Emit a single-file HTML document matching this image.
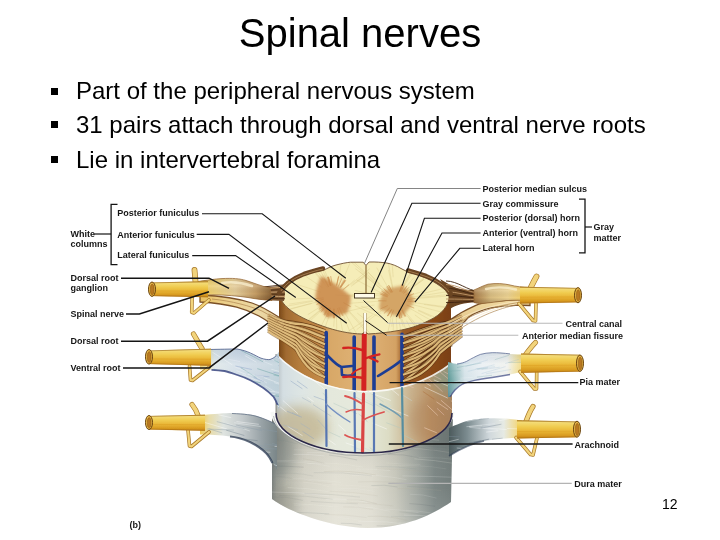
<!DOCTYPE html>
<html><head><meta charset="utf-8">
<style>
html,body{margin:0;padding:0;background:#fff;}
body{width:720px;height:540px;overflow:hidden;position:relative;font-family:"Liberation Sans",sans-serif;}
svg{position:absolute;left:0;top:0;}
</style></head>
<body>
<svg width="720" height="540" viewBox="0 0 720 540" font-family="Liberation Sans, sans-serif">
<defs>
<linearGradient id="gDura" x1="272" y1="0" x2="453" y2="0" gradientUnits="userSpaceOnUse">
<stop offset="0" stop-color="#7c8280"/><stop offset="0.025" stop-color="#9c9e96"/><stop offset="0.08" stop-color="#bcbcb0"/><stop offset="0.18" stop-color="#d4d2c6"/>
<stop offset="0.35" stop-color="#e2e0d4"/><stop offset="0.55" stop-color="#dedcd0"/><stop offset="0.68" stop-color="#c8c8bc"/><stop offset="0.8" stop-color="#a0a6a0"/>
<stop offset="0.9" stop-color="#7c8684"/><stop offset="1" stop-color="#727c7a"/></linearGradient>
<linearGradient id="gDuraV" x1="0" y1="440" x2="0" y2="530" gradientUnits="userSpaceOnUse">
<stop offset="0" stop-color="#000" stop-opacity="0.08"/><stop offset="0.5" stop-color="#fff" stop-opacity="0"/><stop offset="1" stop-color="#fff" stop-opacity="0.15"/></linearGradient>
<linearGradient id="gArach" x1="276" y1="0" x2="452" y2="0" gradientUnits="userSpaceOnUse">
<stop offset="0" stop-color="#b4bcc0"/><stop offset="0.04" stop-color="#d4dee2"/><stop offset="0.15" stop-color="#dee6e4"/><stop offset="0.3" stop-color="#e4e8dc"/>
<stop offset="0.5" stop-color="#e6eadc"/><stop offset="0.64" stop-color="#dcdcc4"/><stop offset="0.76" stop-color="#cab490"/><stop offset="0.88" stop-color="#bc9468"/><stop offset="1" stop-color="#a88460"/></linearGradient>
<linearGradient id="gCord" x1="279" y1="0" x2="451" y2="0" gradientUnits="userSpaceOnUse">
<stop offset="0" stop-color="#7a4818"/><stop offset="0.04" stop-color="#a06a30"/><stop offset="0.12" stop-color="#b47c3c"/><stop offset="0.25" stop-color="#c48a48"/><stop offset="0.3" stop-color="#d8a868"/>
<stop offset="0.5" stop-color="#e0b478"/><stop offset="0.68" stop-color="#d4a264"/><stop offset="0.72" stop-color="#9a5c28"/><stop offset="0.9" stop-color="#884818"/><stop offset="1" stop-color="#7a4016"/></linearGradient>
<linearGradient id="gTube" x1="0" y1="0" x2="0" y2="1">
<stop offset="0" stop-color="#d0a030"/><stop offset="0.1" stop-color="#f4dc78"/><stop offset="0.35" stop-color="#f0cc50"/><stop offset="0.62" stop-color="#e8b434"/><stop offset="0.85" stop-color="#d89a20"/><stop offset="1" stop-color="#c08018"/></linearGradient>
<linearGradient id="gGang" x1="0" y1="0" x2="0" y2="1">
<stop offset="0" stop-color="#c8a468"/><stop offset="0.3" stop-color="#e8d49c"/><stop offset="0.6" stop-color="#eedca8"/><stop offset="1" stop-color="#c09860"/></linearGradient>
<linearGradient id="gVent" x1="0" y1="0" x2="0" y2="1">
<stop offset="0" stop-color="#ecd49a"/><stop offset="0.6" stop-color="#e0c084"/><stop offset="1" stop-color="#c49a60"/></linearGradient>
<linearGradient id="gPaleL" x1="200" y1="0" x2="280" y2="0" gradientUnits="userSpaceOnUse">
<stop offset="0" stop-color="#f0cc58"/><stop offset="0.1" stop-color="#e8e0a8"/><stop offset="0.18" stop-color="#dce6e6"/><stop offset="0.45" stop-color="#d0dce6"/><stop offset="0.75" stop-color="#c6d4de"/><stop offset="1" stop-color="#bccfd8"/></linearGradient>
<linearGradient id="gPaleR" x1="448" y1="0" x2="524" y2="0" gradientUnits="userSpaceOnUse">
<stop offset="0" stop-color="#5a9896"/><stop offset="0.08" stop-color="#8ab6b6"/><stop offset="0.22" stop-color="#d4e2e8"/><stop offset="0.45" stop-color="#e8eef2"/><stop offset="0.78" stop-color="#eef0ec"/><stop offset="0.9" stop-color="#f0e0a0"/><stop offset="1" stop-color="#f0d060"/></linearGradient>
<linearGradient id="gGreyL" x1="200" y1="0" x2="277" y2="0" gradientUnits="userSpaceOnUse">
<stop offset="0" stop-color="#f0cc58"/><stop offset="0.12" stop-color="#e8dca8"/><stop offset="0.3" stop-color="#dfe4e0"/><stop offset="0.55" stop-color="#c4cacc"/><stop offset="0.8" stop-color="#98a2a6"/><stop offset="1" stop-color="#7a8688"/></linearGradient>
<linearGradient id="gGreyR" x1="449" y1="0" x2="522" y2="0" gradientUnits="userSpaceOnUse">
<stop offset="0" stop-color="#4c5a5c"/><stop offset="0.25" stop-color="#7c8c90"/><stop offset="0.55" stop-color="#d0d8dc"/><stop offset="0.75" stop-color="#e6eae4"/><stop offset="0.9" stop-color="#f0dc98"/><stop offset="1" stop-color="#f0d060"/></linearGradient>
<linearGradient id="gGangL" x1="198" y1="0" x2="272" y2="0" gradientUnits="userSpaceOnUse">
<stop offset="0" stop-color="#f0cc58"/><stop offset="0.25" stop-color="#ecd07c"/><stop offset="0.5" stop-color="#e4cc98"/><stop offset="0.78" stop-color="#c49c64"/><stop offset="1" stop-color="#8a6438"/></linearGradient>
<linearGradient id="gGangR" x1="474" y1="0" x2="530" y2="0" gradientUnits="userSpaceOnUse">
<stop offset="0" stop-color="#a87c48"/><stop offset="0.3" stop-color="#d8bc80"/><stop offset="0.6" stop-color="#ead090"/><stop offset="0.85" stop-color="#f0cc68"/><stop offset="1" stop-color="#f0c850"/></linearGradient>
<linearGradient id="gShadeV" x1="0" y1="0" x2="0" y2="1">
<stop offset="0" stop-color="#000" stop-opacity="0.05"/><stop offset="0.35" stop-color="#fff" stop-opacity="0.15"/><stop offset="0.7" stop-color="#000" stop-opacity="0"/><stop offset="1" stop-color="#603010" stop-opacity="0.25"/></linearGradient>
<linearGradient id="gVentR" x1="0" y1="0" x2="0" y2="1">
<stop offset="0" stop-color="#f0d8a0"/><stop offset="0.6" stop-color="#e4c88c"/><stop offset="1" stop-color="#c8a068"/></linearGradient>
<linearGradient id="gVentL" x1="200" y1="0" x2="285" y2="0" gradientUnits="userSpaceOnUse">
<stop offset="0" stop-color="#e8c060"/><stop offset="0.3" stop-color="#ecd08c"/><stop offset="0.7" stop-color="#ecd8a4"/><stop offset="1" stop-color="#e0c490"/></linearGradient>
<linearGradient id="gSleeveV" x1="0" y1="0" x2="0" y2="1">
<stop offset="0" stop-color="#5070a0" stop-opacity="0.12"/><stop offset="0.25" stop-color="#ffffff" stop-opacity="0.2"/><stop offset="0.6" stop-color="#ffffff" stop-opacity="0"/><stop offset="1" stop-color="#5070a0" stop-opacity="0.3"/></linearGradient>
<radialGradient id="gHorn" cx="0.5" cy="0.5" r="0.5">
<stop offset="0" stop-color="#c07434"/><stop offset="0.55" stop-color="#c8843f"/><stop offset="0.85" stop-color="#dcae70" stop-opacity="0.6"/><stop offset="1" stop-color="#f0e0a8" stop-opacity="0"/></radialGradient>
<radialGradient id="gSect" cx="0.5" cy="0.5" r="0.55">
<stop offset="0" stop-color="#f8f2c8"/><stop offset="0.8" stop-color="#f6ecb4"/><stop offset="1" stop-color="#eedc98"/></radialGradient>

<filter id="fBlur2" x="-50%" y="-50%" width="200%" height="200%"><feGaussianBlur stdDeviation="6"/></filter>
<filter id="fSoft" x="0" y="0" width="100%" height="100%" filterUnits="userSpaceOnUse"><feGaussianBlur stdDeviation="0.35"/></filter>
<filter id="fBlur" x="-20%" y="-20%" width="140%" height="140%"><feGaussianBlur stdDeviation="1.6"/></filter>
<clipPath id="cDura"><path d="M272,412 L272,499 C290,512 328,527 368,528 C405,528 432,515 451,502 L453,412 A91,45 0 0 1 272,412 Z"/></clipPath>
<clipPath id="cArach"><path d="M276,354 C298,376 330,390 364,391 C400,391 430,380 452,362 L452,413 A88,40 0 0 1 276,413 Z"/></clipPath>
<clipPath id="cBL"><path d="M200,415 C215,414 225,413 232,413 C245,413.5 252,414.5 257,416 C265,419 270,421 274,423 L277,426 L277,470 L272.5,462 C270,458 268,455 266,453 C261,448 256,445 250,442 C242,438.5 236,437 230,436.5 C220,435 210,434.5 200,434.5 Z"/></clipPath>
<clipPath id="cBR"><path d="M449,428 C456,425 464,421 474,419.5 C490,417.5 506,418 522,420.5 L522,437.5 C508,438 495,439 484,441 C470,444 460,449 449,456 Z"/></clipPath>
<clipPath id="cML"><path d="M200,349 C212,349.5 225,349 237,349 C243,350 247,351.5 250.4,353 C255,355 258,357 261,358.2 C265,359.5 268,359.8 270,359.5 C273,358.5 275,357 276.3,355.6 L279,351.7 L279,409 C278,406 277.6,405 277.6,404.9 C276,401 275,399 273.7,397 C270,393 267,390.5 263.4,388 C259,385 255,382.5 250.4,380.2 C246,378 242,376.5 237.4,375 C233,373.5 229,372 224.5,371 C220,370.3 216,370 211.5,369.8 C207,369.6 203,369.6 200,369.6 Z"/></clipPath>
<clipPath id="cMR"><path d="M448,362 C452,363 455,364 457,364 C461,363.5 464,362.5 466.3,361.5 C471,359 476,356 480.4,354.4 C484,353.4 488,352.8 492.2,352.7 C498,352.6 504,353.2 510,353.9 C515,354.2 520,354.4 524,354.6 L524,371.6 C519,372.5 514,373.8 510,374.5 C504,375.6 498,376.6 492.2,377.5 C486,378.4 480,379.3 474.5,380.4 C470,381.5 466,382.5 462.7,384 C459,386 457,388 455,390 C453,392.5 451,395 450,397 L448,397 Z"/></clipPath>
<clipPath id="cLG"><path d="M198,281.5 C208,280 215,279 222,278.6 C232,278 240,278.6 246,280.5 C254,283 262,286.5 270,288 L272,300.5 C264,300 256,299 248,297.5 C238,296 226,295 214,294.8 C208,294.8 202,295.5 198,296 Z"/></clipPath>
<clipPath id="cRG"><path d="M474,290 C478,288.5 482,286 488,284.2 C496,283 504,283.6 510,285 C516,286.5 522,287.4 530,287.4 L530,301 C522,300 514,300.2 506,300.6 C498,301.5 490,303 482,303.6 C478,303.6 476,303 474,302.5 Z"/></clipPath>
<clipPath id="cSect"><path d="M281,297.5 C282,290 290,282 300,277 C308,273 316,271 323.5,270.3 C328,268 332,266 336,265 C342,263.5 346,262.6 350.6,262.2 L363.2,262.2 L366,265.5 L369,262 C376,261.8 382,262.3 386.7,263 C392,264 397,266 401,268.5 L406.5,271.3 C420,275 432,280 440,286 C446,290 449,294 449,298 C448,306 442,314 430,320 C418,326 408,329 398,330.6 C388,332.4 378,333.5 368,334 L365,331.5 L362,334 C350,333.8 336,331 322.5,326 C308,321 296,315 289,309 C283,304 281,300 281,297.5 Z"/></clipPath>
<clipPath id="cCordTop"><path d="M262,290 L262,350 C290,378 330,392 364,392 C400,392 430,380 470,350 L470,290 Z"/></clipPath>
</defs>
<g id="illu" filter="url(#fSoft)">
<path d="M272,412 L272,499 C290,512 328,527 368,528 C405,528 432,515 451,502 L453,412 A91,45 0 0 1 272,412 Z" fill="url(#gDura)"/>
<path d="M272,412 L272,499 C290,512 328,527 368,528 C405,528 432,515 451,502 L453,412 A91,45 0 0 1 272,412 Z" fill="url(#gDuraV)"/>
<g clip-path="url(#cDura)"><ellipse cx="278" cy="452" rx="16" ry="26" fill="#6a7474" opacity="0.45" filter="url(#fBlur2)"/><ellipse cx="282" cy="505" rx="14" ry="18" fill="#7a7a70" opacity="0.35" filter="url(#fBlur2)"/></g>
<g clip-path="url(#cDura)" stroke-width="0.7" fill="none">
<path d="M349.4,424.5 q17.4,0.3 34.8,3.4" stroke="#b0aa98" stroke-opacity="0.20"/>
<path d="M337.7,427.0 q21.0,-0.1 42.0,4.3" stroke="#f4f2e8" stroke-opacity="0.28"/>
<path d="M364.1,427.3 q13.0,0.1 26.0,4.0" stroke="#f4f2e8" stroke-opacity="0.26"/>
<path d="M274.9,428.8 q25.2,1.1 50.3,4.3" stroke="#b0aa98" stroke-opacity="0.13"/>
<path d="M357.2,429.1 q28.4,1.7 56.8,2.6" stroke="#7a8484" stroke-opacity="0.23"/>
<path d="M333.9,431.4 q28.7,-1.5 57.4,1.9" stroke="#5a6466" stroke-opacity="0.14"/>
<path d="M332.6,432.8 q22.5,1.3 45.1,3.3" stroke="#5a6466" stroke-opacity="0.19"/>
<path d="M328.2,433.1 q14.6,1.7 29.3,4.4" stroke="#5a6466" stroke-opacity="0.23"/>
<path d="M369.0,435.2 q13.3,1.6 26.5,3.3" stroke="#5a6466" stroke-opacity="0.27"/>
<path d="M297.7,435.8 q26.6,-1.5 53.3,2.9" stroke="#b0aa98" stroke-opacity="0.16"/>
<path d="M339.9,436.8 q16.9,-1.4 33.8,2.2" stroke="#ffffff" stroke-opacity="0.19"/>
<path d="M400.3,438.2 q10.9,-0.5 21.8,3.3" stroke="#b0aa98" stroke-opacity="0.24"/>
<path d="M407.9,438.9 q15.6,-0.8 31.2,1.3" stroke="#f4f2e8" stroke-opacity="0.28"/>
<path d="M269.9,440.1 q13.9,-0.9 27.9,3.8" stroke="#7a8484" stroke-opacity="0.17"/>
<path d="M317.7,442.1 q17.2,-0.5 34.4,2.8" stroke="#f4f2e8" stroke-opacity="0.26"/>
<path d="M364.8,442.3 q21.9,1.9 43.8,4.2" stroke="#b0aa98" stroke-opacity="0.14"/>
<path d="M363.3,442.9 q24.3,-1.0 48.6,2.2" stroke="#5a6466" stroke-opacity="0.19"/>
<path d="M387.2,444.2 q29.7,0.5 59.5,3.5" stroke="#5a6466" stroke-opacity="0.12"/>
<path d="M362.2,444.8 q19.3,-0.9 38.7,3.0" stroke="#5a6466" stroke-opacity="0.22"/>
<path d="M413.0,447.0 q10.4,-0.2 20.9,3.4" stroke="#5a6466" stroke-opacity="0.16"/>
<path d="M321.4,447.6 q16.3,-0.9 32.5,4.1" stroke="#5a6466" stroke-opacity="0.26"/>
<path d="M391.0,448.4 q29.4,-1.1 58.9,4.2" stroke="#f4f2e8" stroke-opacity="0.17"/>
<path d="M294.0,449.8 q18.7,-0.7 37.4,2.3" stroke="#ffffff" stroke-opacity="0.14"/>
<path d="M333.0,452.1 q27.1,1.0 54.2,1.9" stroke="#f4f2e8" stroke-opacity="0.13"/>
<path d="M306.9,452.7 q25.7,-1.2 51.5,4.2" stroke="#ffffff" stroke-opacity="0.20"/>
<path d="M293.5,454.4 q15.6,-0.6 31.1,1.5" stroke="#ffffff" stroke-opacity="0.25"/>
<path d="M388.0,454.5 q15.4,-0.8 30.8,3.3" stroke="#5a6466" stroke-opacity="0.22"/>
<path d="M329.1,455.1 q14.0,1.5 28.0,4.9" stroke="#7a8484" stroke-opacity="0.27"/>
<path d="M412.3,457.1 q28.5,-0.2 57.1,4.0" stroke="#f4f2e8" stroke-opacity="0.13"/>
<path d="M414.3,458.8 q20.9,1.4 41.8,4.9" stroke="#f4f2e8" stroke-opacity="0.26"/>
<path d="M302.9,458.7 q10.7,1.6 21.4,4.6" stroke="#b0aa98" stroke-opacity="0.27"/>
<path d="M267.0,460.8 q24.9,-1.0 49.8,1.1" stroke="#f4f2e8" stroke-opacity="0.20"/>
<path d="M273.3,461.9 q28.3,-1.0 56.5,4.4" stroke="#ffffff" stroke-opacity="0.17"/>
<path d="M386.3,462.9 q17.0,1.6 34.1,1.5" stroke="#f4f2e8" stroke-opacity="0.14"/>
<path d="M307.4,463.6 q27.8,-2.0 55.6,3.5" stroke="#f4f2e8" stroke-opacity="0.25"/>
<path d="M272.7,466.0 q15.4,0.1 30.9,1.2" stroke="#5a6466" stroke-opacity="0.22"/>
<path d="M392.0,466.0 q27.1,-1.8 54.3,2.9" stroke="#f4f2e8" stroke-opacity="0.13"/>
<path d="M375.5,466.6 q20.3,-0.7 40.6,2.4" stroke="#7a8484" stroke-opacity="0.17"/>
<path d="M355.9,469.0 q17.2,-0.3 34.4,1.5" stroke="#f4f2e8" stroke-opacity="0.28"/>
<path d="M377.1,468.9 q25.9,-0.5 51.8,3.4" stroke="#b0aa98" stroke-opacity="0.15"/>
<path d="M323.9,471.6 q26.0,-1.8 52.0,3.5" stroke="#b0aa98" stroke-opacity="0.26"/>
<path d="M313.8,472.7 q29.0,-1.0 58.0,3.1" stroke="#7a8484" stroke-opacity="0.19"/>
<path d="M276.1,473.7 q18.5,-1.9 37.0,2.3" stroke="#7a8484" stroke-opacity="0.14"/>
<path d="M351.7,475.4 q27.4,-1.5 54.8,4.3" stroke="#ffffff" stroke-opacity="0.19"/>
<path d="M402.5,475.9 q25.8,0.3 51.7,1.4" stroke="#ffffff" stroke-opacity="0.24"/>
<path d="M265.8,476.9 q12.9,-1.6 25.7,1.4" stroke="#7a8484" stroke-opacity="0.13"/>
<path d="M292.8,478.7 q10.5,-1.5 20.9,2.9" stroke="#ffffff" stroke-opacity="0.12"/>
<path d="M309.1,479.4 q16.0,1.1 32.0,3.0" stroke="#ffffff" stroke-opacity="0.13"/>
<path d="M281.5,480.6 q25.0,-0.7 50.0,3.3" stroke="#b0aa98" stroke-opacity="0.13"/>
<path d="M302.5,482.0 q13.6,0.8 27.2,4.8" stroke="#f4f2e8" stroke-opacity="0.19"/>
<path d="M357.9,482.0 q28.8,-1.7 57.6,3.0" stroke="#b0aa98" stroke-opacity="0.19"/>
<path d="M329.0,484.6 q24.9,0.3 49.9,3.3" stroke="#f4f2e8" stroke-opacity="0.19"/>
<path d="M371.3,485.6 q13.1,-1.4 26.2,1.4" stroke="#7a8484" stroke-opacity="0.26"/>
<path d="M407.1,486.4 q20.3,1.4 40.7,1.5" stroke="#7a8484" stroke-opacity="0.21"/>
<path d="M287.7,487.6 q20.3,0.2 40.6,4.1" stroke="#f4f2e8" stroke-opacity="0.26"/>
<path d="M397.6,488.6 q21.9,-0.9 43.8,1.9" stroke="#b0aa98" stroke-opacity="0.21"/>
<path d="M339.3,488.4 q17.7,-1.0 35.3,2.9" stroke="#f4f2e8" stroke-opacity="0.21"/>
<path d="M329.9,491.3 q24.0,0.3 47.9,4.6" stroke="#b0aa98" stroke-opacity="0.15"/>
<path d="M269.3,492.0 q29.9,-0.4 59.7,3.9" stroke="#ffffff" stroke-opacity="0.26"/>
<path d="M337.4,493.8 q14.6,1.1 29.2,1.3" stroke="#f4f2e8" stroke-opacity="0.22"/>
<path d="M304.4,493.4 q27.8,0.5 55.6,3.7" stroke="#5a6466" stroke-opacity="0.14"/>
<path d="M409.7,494.2 q13.4,-0.3 26.8,3.9" stroke="#ffffff" stroke-opacity="0.17"/>
<path d="M279.4,495.5 q26.7,-0.2 53.4,3.9" stroke="#5a6466" stroke-opacity="0.13"/>
<path d="M269.6,497.1 q16.6,-1.2 33.3,3.3" stroke="#7a8484" stroke-opacity="0.20"/>
<path d="M325.6,499.5 q20.9,-1.7 41.8,2.7" stroke="#ffffff" stroke-opacity="0.26"/>
<path d="M346.8,499.6 q15.0,-0.5 30.0,4.1" stroke="#b0aa98" stroke-opacity="0.27"/>
<path d="M310.8,501.4 q23.5,1.8 47.0,2.4" stroke="#5a6466" stroke-opacity="0.14"/>
<path d="M346.5,502.2 q23.3,0.9 46.7,3.7" stroke="#b0aa98" stroke-opacity="0.18"/>
<path d="M293.2,503.3 q22.9,1.6 45.8,3.6" stroke="#f4f2e8" stroke-opacity="0.15"/>
<path d="M409.4,503.6 q12.8,0.6 25.7,2.7" stroke="#5a6466" stroke-opacity="0.22"/>
<path d="M294.0,505.1 q19.6,-1.6 39.3,1.7" stroke="#f4f2e8" stroke-opacity="0.23"/>
<path d="M354.3,506.8 q17.8,-0.5 35.7,4.5" stroke="#ffffff" stroke-opacity="0.16"/>
<path d="M343.2,506.9 q14.9,-0.7 29.9,2.6" stroke="#b0aa98" stroke-opacity="0.18"/>
<path d="M384.6,509.0 q17.1,0.4 34.1,3.7" stroke="#ffffff" stroke-opacity="0.14"/>
<path d="M406.0,510.2 q12.2,0.7 24.5,2.6" stroke="#f4f2e8" stroke-opacity="0.21"/>
<path d="M284.9,512.2 q22.2,0.2 44.3,1.7" stroke="#7a8484" stroke-opacity="0.25"/>
<path d="M399.6,511.8 q17.4,1.2 34.8,4.6" stroke="#5a6466" stroke-opacity="0.12"/>
<path d="M324.4,514.4 q21.1,-0.0 42.1,3.1" stroke="#b0aa98" stroke-opacity="0.17"/>
<path d="M403.8,515.1 q23.4,0.9 46.7,1.0" stroke="#ffffff" stroke-opacity="0.22"/>
<path d="M367.6,516.4 q19.8,-1.2 39.7,4.1" stroke="#b0aa98" stroke-opacity="0.22"/>
<path d="M391.0,516.4 q28.5,-0.9 57.0,3.6" stroke="#7a8484" stroke-opacity="0.14"/>
<path d="M337.4,517.5 q11.8,0.5 23.5,3.0" stroke="#ffffff" stroke-opacity="0.12"/>
<path d="M267.9,519.3 q16.8,0.8 33.6,1.5" stroke="#5a6466" stroke-opacity="0.26"/>
<path d="M358.2,521.2 q28.5,-0.6 57.1,4.2" stroke="#ffffff" stroke-opacity="0.24"/>
<path d="M398.5,522.5 q18.7,-1.6 37.5,1.2" stroke="#f4f2e8" stroke-opacity="0.20"/>
<path d="M296.0,521.9 q13.2,-1.7 26.4,4.4" stroke="#7a8484" stroke-opacity="0.20"/>
<path d="M340.8,523.3 q10.5,-0.4 20.9,1.7" stroke="#7a8484" stroke-opacity="0.24"/>
<path d="M376.6,525.8 q17.3,-0.6 34.7,2.6" stroke="#5a6466" stroke-opacity="0.19"/>
<path d="M389.7,527.1 q15.2,-0.2 30.3,1.8" stroke="#5a6466" stroke-opacity="0.14"/>
<path d="M291.5,526.8 q18.1,-1.4 36.1,3.4" stroke="#f4f2e8" stroke-opacity="0.22"/>
</g>
<path d="M200,415 C215,414 225,413 232,413 C245,413.5 252,414.5 257,416 C265,419 270,421 274,423 L277,426 L277,470 L272.5,462 C270,458 268,455 266,453 C261,448 256,445 250,442 C242,438.5 236,437 230,436.5 C220,435 210,434.5 200,434.5 Z" fill="url(#gGreyL)"/>
<g clip-path="url(#cBL)" fill="none">
<path d="M234.1,422.7 l26.6,3.8" stroke="#f0f4f4" stroke-width="0.8" opacity="0.5"/>
<path d="M231.4,452.8 l10.9,1.6" stroke="#8a9aa8" stroke-width="0.8" opacity="0.5"/>
<path d="M238.0,464.7 l27.6,2.3" stroke="#8a9aa8" stroke-width="0.8" opacity="0.5"/>
<path d="M236.5,421.6 l22.3,2.7" stroke="#ffffff" stroke-width="0.8" opacity="0.5"/>
<path d="M245.8,458.8 l14.9,5.3" stroke="#8a9aa8" stroke-width="0.8" opacity="0.5"/>
<path d="M260.8,467.8 l19.4,3.9" stroke="#ffffff" stroke-width="0.8" opacity="0.5"/>
<path d="M262.7,448.5 l16.9,0.6" stroke="#8a9aa8" stroke-width="0.8" opacity="0.5"/>
<path d="M274.6,446.4 l10.1,0.1" stroke="#ffffff" stroke-width="0.8" opacity="0.5"/>
<path d="M201.5,441.2 l19.6,1.3" stroke="#f0f4f4" stroke-width="0.8" opacity="0.5"/>
<path d="M215.5,468.5 l18.8,5.4" stroke="#f0f4f4" stroke-width="0.8" opacity="0.5"/>
<path d="M272.4,414.0 l15.7,3.4" stroke="#8a9aa8" stroke-width="0.8" opacity="0.5"/>
<path d="M206.8,429.0 l27.0,1.1" stroke="#8a9aa8" stroke-width="0.8" opacity="0.5"/>
<path d="M242.1,443.1 l25.3,3.6" stroke="#8a9aa8" stroke-width="0.8" opacity="0.5"/>
<path d="M264.3,444.1 l28.2,3.6" stroke="#8a9aa8" stroke-width="0.8" opacity="0.5"/>
<path d="M233.8,437.8 l23.9,2.9" stroke="#6a7a88" stroke-width="0.8" opacity="0.5"/>
<path d="M239.0,455.7 l27.5,6.8" stroke="#8a9aa8" stroke-width="0.8" opacity="0.5"/>
<path d="M203.3,422.0 l24.0,7.1" stroke="#ffffff" stroke-width="0.8" opacity="0.5"/>
<path d="M258.4,451.3 l11.9,1.0" stroke="#ffffff" stroke-width="0.8" opacity="0.5"/>
<path d="M267.6,462.6 l18.1,5.9" stroke="#f0f4f4" stroke-width="0.8" opacity="0.5"/>
<path d="M276.8,412.1 l13.4,3.8" stroke="#ffffff" stroke-width="0.8" opacity="0.5"/>
<path d="M226.1,430.1 l18.2,5.4" stroke="#6a7a88" stroke-width="0.8" opacity="0.5"/>
<path d="M218.5,414.8 l12.7,2.9" stroke="#ffffff" stroke-width="0.8" opacity="0.5"/>
<path d="M208.6,428.7 l13.6,4.2" stroke="#8a9aa8" stroke-width="0.8" opacity="0.5"/>
<path d="M238.9,464.6 l15.6,5.0" stroke="#6a7a88" stroke-width="0.8" opacity="0.5"/>
<path d="M236.0,448.1 l10.4,3.0" stroke="#ffffff" stroke-width="0.8" opacity="0.5"/>
<path d="M266.1,417.9 l28.7,2.6" stroke="#ffffff" stroke-width="0.8" opacity="0.5"/>
<path d="M235.8,424.9 l26.0,5.7" stroke="#8a9aa8" stroke-width="0.8" opacity="0.5"/>
<path d="M258.6,462.6 l16.5,3.5" stroke="#8a9aa8" stroke-width="0.8" opacity="0.5"/>
<path d="M259.9,428.9 l28.6,4.5" stroke="#8a9aa8" stroke-width="0.8" opacity="0.5"/>
<path d="M215.9,443.3 l18.7,4.9" stroke="#ffffff" stroke-width="0.8" opacity="0.5"/>
<path d="M226.3,423.1 l23.8,8.0" stroke="#f0f4f4" stroke-width="0.8" opacity="0.5"/>
<path d="M232.6,449.6 l22.1,1.7" stroke="#f0f4f4" stroke-width="0.8" opacity="0.5"/>
<path d="M264.5,415.6 l14.5,2.3" stroke="#f0f4f4" stroke-width="0.8" opacity="0.5"/>
<path d="M216.8,421.6 l27.7,7.2" stroke="#8a9aa8" stroke-width="0.8" opacity="0.5"/>
<path d="M271.7,443.1 l17.4,6.0" stroke="#8a9aa8" stroke-width="0.8" opacity="0.5"/>
<path d="M237.3,456.9 l17.0,6.2" stroke="#ffffff" stroke-width="0.8" opacity="0.5"/>
<path d="M222.5,466.2 l13.7,0.5" stroke="#6a7a88" stroke-width="0.8" opacity="0.5"/>
<path d="M222.7,442.1 l22.8,0.3" stroke="#6a7a88" stroke-width="0.8" opacity="0.5"/>
<path d="M221.3,437.1 l16.3,4.3" stroke="#f0f4f4" stroke-width="0.8" opacity="0.5"/>
<path d="M211.0,437.8 l27.8,4.4" stroke="#6a7a88" stroke-width="0.8" opacity="0.5"/>
</g>
<path d="M230,436.5 C236,437 242,438.5 250,442 C256,445 261,448 266,453 C268,455 270,458 272.5,463" stroke="#2a3850" stroke-width="2.2" fill="none" opacity="0.75"/>
<path d="M232,413.5 C245,414 252,415 257,416.5 C265,419 270,421 275,424" stroke="#5a6a80" stroke-width="1" fill="none" opacity="0.7"/>
<path d="M449,428 C456,425 464,421 474,419.5 C490,417.5 506,418 522,420.5 L522,437.5 C508,438 495,439 484,441 C470,444 460,449 449,456 Z" fill="url(#gGreyR)"/>
<g clip-path="url(#cBR)" fill="none">
<path d="M456.8,448.0 l23.9,2.2" stroke="#e8eef0" stroke-width="0.8" opacity="0.5"/>
<path d="M517.6,434.1 l28.7,-2.4" stroke="#4a5a68" stroke-width="0.8" opacity="0.5"/>
<path d="M472.7,451.8 l15.6,-1.4" stroke="#e8eef0" stroke-width="0.8" opacity="0.5"/>
<path d="M507.1,428.5 l14.8,0.5" stroke="#ffffff" stroke-width="0.8" opacity="0.5"/>
<path d="M446.1,442.4 l12.6,-3.1" stroke="#ffffff" stroke-width="0.8" opacity="0.5"/>
<path d="M445.1,457.3 l25.7,-3.2" stroke="#e8eef0" stroke-width="0.8" opacity="0.5"/>
<path d="M520.4,417.5 l13.3,-3.3" stroke="#7a8a98" stroke-width="0.8" opacity="0.5"/>
<path d="M514.6,451.1 l22.1,0.7" stroke="#7a8a98" stroke-width="0.8" opacity="0.5"/>
<path d="M469.0,426.4 l25.9,-2.7" stroke="#e8eef0" stroke-width="0.8" opacity="0.5"/>
<path d="M471.1,417.2 l10.7,1.1" stroke="#4a5a68" stroke-width="0.8" opacity="0.5"/>
<path d="M515.3,450.0 l14.6,-3.0" stroke="#7a8a98" stroke-width="0.8" opacity="0.5"/>
<path d="M484.2,450.9 l20.8,-3.2" stroke="#4a5a68" stroke-width="0.8" opacity="0.5"/>
<path d="M448.5,436.4 l11.2,0.4" stroke="#7a8a98" stroke-width="0.8" opacity="0.5"/>
<path d="M481.0,444.0 l28.6,1.0" stroke="#7a8a98" stroke-width="0.8" opacity="0.5"/>
<path d="M473.6,442.6 l15.5,-3.5" stroke="#4a5a68" stroke-width="0.8" opacity="0.5"/>
<path d="M521.4,439.0 l18.0,-2.3" stroke="#7a8a98" stroke-width="0.8" opacity="0.5"/>
<path d="M466.4,426.7 l15.6,-1.0" stroke="#e8eef0" stroke-width="0.8" opacity="0.5"/>
<path d="M455.8,417.6 l19.4,-3.3" stroke="#7a8a98" stroke-width="0.8" opacity="0.5"/>
<path d="M516.7,441.7 l10.6,-0.5" stroke="#ffffff" stroke-width="0.8" opacity="0.5"/>
<path d="M482.5,427.8 l24.1,1.7" stroke="#ffffff" stroke-width="0.8" opacity="0.5"/>
<path d="M478.5,419.2 l10.6,-0.8" stroke="#7a8a98" stroke-width="0.8" opacity="0.5"/>
<path d="M460.0,454.7 l13.5,-1.6" stroke="#7a8a98" stroke-width="0.8" opacity="0.5"/>
<path d="M469.3,427.4 l28.9,2.3" stroke="#e8eef0" stroke-width="0.8" opacity="0.5"/>
<path d="M492.0,439.3 l10.7,-1.1" stroke="#7a8a98" stroke-width="0.8" opacity="0.5"/>
<path d="M520.5,419.3 l14.4,-2.6" stroke="#ffffff" stroke-width="0.8" opacity="0.5"/>
<path d="M498.8,420.8 l22.2,-4.6" stroke="#ffffff" stroke-width="0.8" opacity="0.5"/>
<path d="M517.5,456.9 l23.7,-2.4" stroke="#7a8a98" stroke-width="0.8" opacity="0.5"/>
<path d="M480.6,428.2 l20.8,-4.0" stroke="#7a8a98" stroke-width="0.8" opacity="0.5"/>
<path d="M518.7,422.1 l27.6,-5.2" stroke="#7a8a98" stroke-width="0.8" opacity="0.5"/>
<path d="M496.9,443.2 l12.5,-2.9" stroke="#4a5a68" stroke-width="0.8" opacity="0.5"/>
<path d="M468.9,443.2 l12.4,-2.5" stroke="#4a5a68" stroke-width="0.8" opacity="0.5"/>
<path d="M486.2,432.1 l12.1,-1.4" stroke="#ffffff" stroke-width="0.8" opacity="0.5"/>
<path d="M466.6,421.5 l12.6,-2.6" stroke="#e8eef0" stroke-width="0.8" opacity="0.5"/>
<path d="M517.2,441.4 l27.8,-7.0" stroke="#e8eef0" stroke-width="0.8" opacity="0.5"/>
<path d="M521.8,457.2 l14.8,-1.9" stroke="#7a8a98" stroke-width="0.8" opacity="0.5"/>
</g>
<path d="M484,441 C470,444 460,449 449,456" stroke="#2a3850" stroke-width="1.6" fill="none" opacity="0.6"/>
<path d="M198,415.5 C196.5,411 194,407 192,404.5" stroke="#a87828" stroke-width="5.199999999999999" fill="none" stroke-linecap="round" stroke-linejoin="round"/><path d="M198,415.5 C196.5,411 194,407 192,404.5" stroke="#f2d47c" stroke-width="3.8" fill="none" stroke-linecap="round" stroke-linejoin="round"/>
<path d="M188,430 L189.5,446 L191.5,446.5 L209,432" stroke="#a87828" stroke-width="3.6" fill="none" stroke-linecap="round" stroke-linejoin="round"/><path d="M188,430 L189.5,446 L191.5,446.5 L209,432" stroke="#f2d47c" stroke-width="2.2" fill="none" stroke-linecap="round" stroke-linejoin="round"/>
<path d="M149,416 L205,414.8 L205,430.7 L149,429.5 Z" fill="url(#gTube)"/><path d="M149,424.4 L205,424.7" stroke="#d89820" stroke-width="1" opacity="0.4"/><path d="M149,416.4 L205,415.2" stroke="#9a6a20" stroke-width="0.8" opacity="0.8"/><path d="M149,429.1 L205,430.3" stroke="#b07418" stroke-width="0.9" opacity="0.8"/>
<ellipse cx="149" cy="422.5" rx="3.5" ry="7" fill="#e8b848" stroke="#6a4410" stroke-width="1"/><ellipse cx="149.2" cy="422.8" rx="1.9" ry="5.2" fill="#b87820" stroke="#8a5a14" stroke-width="0.5"/>
<path d="M526,421.5 C528,416 530,411 533,406.5" stroke="#a87828" stroke-width="5.199999999999999" fill="none" stroke-linecap="round" stroke-linejoin="round"/><path d="M526,421.5 C528,416 530,411 533,406.5" stroke="#f2d47c" stroke-width="3.8" fill="none" stroke-linecap="round" stroke-linejoin="round"/>
<path d="M516,437.5 L530.5,454.5 L533,455 L537,438" stroke="#a87828" stroke-width="3.6" fill="none" stroke-linecap="round" stroke-linejoin="round"/><path d="M516,437.5 L530.5,454.5 L533,455 L537,438" stroke="#f2d47c" stroke-width="2.2" fill="none" stroke-linecap="round" stroke-linejoin="round"/>
<path d="M517,420.3 L577,421.5 L577,437.2 L517,438.4 Z" fill="url(#gTube)"/><path d="M517,431.5 L577,431.2" stroke="#d89820" stroke-width="1" opacity="0.4"/><path d="M517,420.7 L577,421.9" stroke="#9a6a20" stroke-width="0.8" opacity="0.8"/><path d="M517,438.0 L577,436.8" stroke="#b07418" stroke-width="0.9" opacity="0.8"/>
<ellipse cx="577" cy="429.2" rx="3.5" ry="8" fill="#e8b848" stroke="#6a4410" stroke-width="1"/><ellipse cx="577.2" cy="429.5" rx="1.9" ry="6.2" fill="#b87820" stroke="#8a5a14" stroke-width="0.5"/>
<path d="M272,412 A91,45 0 0 0 453,412" fill="none" stroke="#f6f8f6" stroke-width="3.8"/>
<path d="M273.5,416 A89.5,43 0 0 0 452,416" fill="none" stroke="#8c9494" stroke-width="0.8" opacity="0.7"/>
<path d="M279,296 L279,420 L451,420 L451,296 Z" fill="url(#gCord)"/>
<path d="M278,321.0 C294,322.0 310,325.0 325,331.0" stroke="#5e3414" stroke-width="3.8" fill="none" opacity="0.7"/>
<path d="M278,321.0 C294,322.0 310,325.0 325,331.0" stroke="#dfbc7c" stroke-width="2.1" fill="none"/>
<path d="M278,323.2 C294,324.7 310,331.3 325,337.6" stroke="#5e3414" stroke-width="3.8" fill="none" opacity="0.7"/>
<path d="M278,323.2 C294,324.7 310,331.3 325,337.6" stroke="#dfbc7c" stroke-width="2.1" fill="none"/>
<path d="M278,325.4 C294,327.4 310,337.6 325,344.2" stroke="#5e3414" stroke-width="3.8" fill="none" opacity="0.7"/>
<path d="M278,325.4 C294,327.4 310,337.6 325,344.2" stroke="#dfbc7c" stroke-width="2.1" fill="none"/>
<path d="M278,327.6 C294,330.1 310,343.9 325,350.8" stroke="#5e3414" stroke-width="3.8" fill="none" opacity="0.7"/>
<path d="M278,327.6 C294,330.1 310,343.9 325,350.8" stroke="#dfbc7c" stroke-width="2.1" fill="none"/>
<path d="M278,329.8 C294,332.8 310,350.2 325,357.4" stroke="#5e3414" stroke-width="3.8" fill="none" opacity="0.7"/>
<path d="M278,329.8 C294,332.8 310,350.2 325,357.4" stroke="#dfbc7c" stroke-width="2.1" fill="none"/>
<path d="M278,332.0 C294,335.5 310,356.5 325,364.0" stroke="#5e3414" stroke-width="3.8" fill="none" opacity="0.7"/>
<path d="M278,332.0 C294,335.5 310,356.5 325,364.0" stroke="#dfbc7c" stroke-width="2.1" fill="none"/>
<path d="M278,334.2 C294,338.2 310,362.8 325,370.6" stroke="#5e3414" stroke-width="3.8" fill="none" opacity="0.7"/>
<path d="M278,334.2 C294,338.2 310,362.8 325,370.6" stroke="#dfbc7c" stroke-width="2.1" fill="none"/>
<path d="M278,336.4 C294,340.9 310,369.1 325,377.2" stroke="#5e3414" stroke-width="3.8" fill="none" opacity="0.7"/>
<path d="M278,336.4 C294,340.9 310,369.1 325,377.2" stroke="#dfbc7c" stroke-width="2.1" fill="none"/>
<path d="M452,322.0 C438,323.0 418,331.0 403,337.0" stroke="#4a2810" stroke-width="3.8" fill="none" opacity="0.7"/>
<path d="M452,322.0 C438,323.0 418,331.0 403,337.0" stroke="#dcb878" stroke-width="2.1" fill="none"/>
<path d="M452,325.2 C438,326.6 418,337.0 403,343.3" stroke="#4a2810" stroke-width="3.8" fill="none" opacity="0.7"/>
<path d="M452,325.2 C438,326.6 418,337.0 403,343.3" stroke="#dcb878" stroke-width="2.1" fill="none"/>
<path d="M452,328.4 C438,330.2 418,343.0 403,349.6" stroke="#4a2810" stroke-width="3.8" fill="none" opacity="0.7"/>
<path d="M452,328.4 C438,330.2 418,343.0 403,349.6" stroke="#dcb878" stroke-width="2.1" fill="none"/>
<path d="M452,331.6 C438,333.8 418,349.0 403,355.9" stroke="#4a2810" stroke-width="3.8" fill="none" opacity="0.7"/>
<path d="M452,331.6 C438,333.8 418,349.0 403,355.9" stroke="#dcb878" stroke-width="2.1" fill="none"/>
<path d="M452,334.8 C438,337.4 418,355.0 403,362.2" stroke="#4a2810" stroke-width="3.8" fill="none" opacity="0.7"/>
<path d="M452,334.8 C438,337.4 418,355.0 403,362.2" stroke="#dcb878" stroke-width="2.1" fill="none"/>
<path d="M452,338.0 C438,341.0 418,361.0 403,368.5" stroke="#4a2810" stroke-width="3.8" fill="none" opacity="0.7"/>
<path d="M452,338.0 C438,341.0 418,361.0 403,368.5" stroke="#dcb878" stroke-width="2.1" fill="none"/>
<path d="M452,341.2 C438,344.6 418,367.0 403,374.8" stroke="#4a2810" stroke-width="3.8" fill="none" opacity="0.7"/>
<path d="M452,341.2 C438,344.6 418,367.0 403,374.8" stroke="#dcb878" stroke-width="2.1" fill="none"/>
<path d="M452,344.4 C438,348.2 418,373.0 403,381.1" stroke="#4a2810" stroke-width="3.8" fill="none" opacity="0.7"/>
<path d="M452,344.4 C438,348.2 418,373.0 403,381.1" stroke="#dcb878" stroke-width="2.1" fill="none"/>
<path d="M326.2,332.6 L326.2,386" stroke="#1e3c94" stroke-width="3.6" fill="none" stroke-linecap="round" stroke-linejoin="round"/>
<path d="M327,355 C332,360 336,365 341.5,367 L352,366 M341.5,367 L342,375 C346,376 350,376 353,375" stroke="#1e3c94" stroke-width="2.6" fill="none" stroke-linecap="round" stroke-linejoin="round"/>
<path d="M354.2,337 L354.2,391" stroke="#1e3c94" stroke-width="3.6" fill="none" stroke-linecap="round" stroke-linejoin="round"/>
<path d="M374,337 L374,391" stroke="#1e3c94" stroke-width="3.6" fill="none" stroke-linecap="round" stroke-linejoin="round"/>
<path d="M402,334.4 L402,387" stroke="#1e3c94" stroke-width="3.6" fill="none" stroke-linecap="round" stroke-linejoin="round"/>
<path d="M402,359.7 C395,366 386,371 378,376" stroke="#1e3c94" stroke-width="2.6" fill="none" stroke-linecap="round" stroke-linejoin="round"/>
<path d="M364.3,333.5 L363.8,393" stroke="#d42420" stroke-width="5" fill="none" stroke-linecap="round" stroke-linejoin="round"/>
<path d="M362,350 C356,348 350,347 343.3,348" stroke="#d42420" stroke-width="2.4" fill="none" stroke-linecap="round" stroke-linejoin="round"/>
<path d="M366.5,358 C371,356 375,355 379.5,354.3 M370,358 C373,359 375,360 377.6,361.5" stroke="#d42420" stroke-width="2.2" fill="none" stroke-linecap="round" stroke-linejoin="round"/>
<path d="M363.2,377.8 C356,377 350,376 343.3,377" stroke="#d42420" stroke-width="2.4" fill="none" stroke-linecap="round" stroke-linejoin="round"/>
<path d="M362,368 C358,369 354,372 352,374" stroke="#d42420" stroke-width="1.8" fill="none" stroke-linecap="round" stroke-linejoin="round"/>
<path d="M276,354 C298,376 330,390 364,391 C400,391 430,380 452,362 L452,413 A88,40 0 0 1 276,413 Z" fill="url(#gArach)"/>
<g clip-path="url(#cArach)"><ellipse cx="298" cy="428" rx="30" ry="22" fill="#b8a474" opacity="0.6" filter="url(#fBlur2)"/><ellipse cx="430" cy="420" rx="22" ry="22" fill="#a87850" opacity="0.35" filter="url(#fBlur2)"/><ellipse cx="450" cy="378" rx="18" ry="14" fill="#6aa8a0" opacity="0.45" filter="url(#fBlur2)"/></g>
<path d="M277,355 C298,377 330,390.5 364,391.5 C400,391.5 430,380 452,363" fill="none" stroke="#ffffff" stroke-width="1.6" opacity="0.8"/>
<g clip-path="url(#cArach)" fill="none">
<path d="M289.2,440.5 l10.8,8.9" stroke="#ffffff" stroke-width="0.8" opacity="0.55"/>
<path d="M375.2,404.1 l14.3,8.2" stroke="#b0c8c0" stroke-width="0.8" opacity="0.55"/>
<path d="M354.4,396.5 l19.2,9.3" stroke="#b0c8c0" stroke-width="0.8" opacity="0.55"/>
<path d="M426.9,377.0 l15.7,14.8" stroke="#f0c8c0" stroke-width="0.8" opacity="0.55"/>
<path d="M328.6,439.8 l7.1,5.0" stroke="#ffffff" stroke-width="0.8" opacity="0.55"/>
<path d="M345.7,442.9 l9.2,3.1" stroke="#ffffff" stroke-width="0.8" opacity="0.55"/>
<path d="M416.9,454.2 l15.8,10.1" stroke="#a86a38" stroke-width="0.8" opacity="0.55"/>
<path d="M287.1,411.3 l14.7,5.9" stroke="#8aa0c0" stroke-width="0.8" opacity="0.55"/>
<path d="M329.8,408.1 l12.5,6.2" stroke="#c8d8e0" stroke-width="0.8" opacity="0.55"/>
<path d="M400.0,433.2 l18.2,9.3" stroke="#b0c8c0" stroke-width="0.8" opacity="0.55"/>
<path d="M424.5,387.2 l23.3,10.9" stroke="#ffffff" stroke-width="0.8" opacity="0.55"/>
<path d="M381.4,381.0 l17.7,14.5" stroke="#ffffff" stroke-width="0.8" opacity="0.55"/>
<path d="M322.2,451.9 l12.7,7.6" stroke="#b0c8c0" stroke-width="0.8" opacity="0.55"/>
<path d="M415.9,376.7 l14.9,9.4" stroke="#ffffff" stroke-width="0.8" opacity="0.55"/>
<path d="M282.8,400.4 l15.1,13.2" stroke="#ffffff" stroke-width="0.8" opacity="0.55"/>
<path d="M313.7,396.3 l10.8,3.9" stroke="#8aa0c0" stroke-width="0.8" opacity="0.55"/>
<path d="M280.2,406.9 l6.3,5.1" stroke="#ffffff" stroke-width="0.8" opacity="0.55"/>
<path d="M401.6,394.3 l10.1,6.3" stroke="#c8d8e0" stroke-width="0.8" opacity="0.55"/>
<path d="M351.3,446.2 l19.5,7.4" stroke="#c8d8e0" stroke-width="0.8" opacity="0.55"/>
<path d="M297.0,380.9 l10.4,7.4" stroke="#8aa0c0" stroke-width="0.8" opacity="0.55"/>
<path d="M433.8,379.9 l14.3,6.1" stroke="#ffffff" stroke-width="0.8" opacity="0.55"/>
<path d="M369.7,447.5 l11.6,9.6" stroke="#b0c8c0" stroke-width="0.8" opacity="0.55"/>
<path d="M425.0,446.7 l10.9,8.4" stroke="#ffffff" stroke-width="0.8" opacity="0.55"/>
<path d="M364.3,448.1 l10.8,4.3" stroke="#c8d8e0" stroke-width="0.8" opacity="0.55"/>
<path d="M323.1,378.0 l17.1,11.9" stroke="#ffffff" stroke-width="0.8" opacity="0.55"/>
<path d="M349.7,435.6 l11.5,7.0" stroke="#ffffff" stroke-width="0.8" opacity="0.55"/>
<path d="M357.4,373.3 l7.9,5.8" stroke="#b0c8c0" stroke-width="0.8" opacity="0.55"/>
<path d="M386.3,422.7 l14.9,5.6" stroke="#b0c8c0" stroke-width="0.8" opacity="0.55"/>
<path d="M397.9,367.9 l10.3,8.7" stroke="#c8d8e0" stroke-width="0.8" opacity="0.55"/>
<path d="M282.2,360.9 l13.5,7.6" stroke="#ffffff" stroke-width="0.8" opacity="0.55"/>
<path d="M422.9,391.5 l11.4,7.8" stroke="#a86a38" stroke-width="0.8" opacity="0.55"/>
<path d="M307.4,397.2 l6.3,4.6" stroke="#ffffff" stroke-width="0.8" opacity="0.55"/>
<path d="M437.0,408.3 l7.2,6.7" stroke="#f0c8c0" stroke-width="0.8" opacity="0.55"/>
<path d="M313.0,404.5 l18.3,11.8" stroke="#a0b0c0" stroke-width="0.8" opacity="0.55"/>
<path d="M333.6,403.3 l23.4,10.4" stroke="#b0c8c0" stroke-width="0.8" opacity="0.55"/>
<path d="M325.2,445.5 l7.5,4.8" stroke="#b0c8c0" stroke-width="0.8" opacity="0.55"/>
<path d="M365.8,389.9 l17.8,12.1" stroke="#b0c8c0" stroke-width="0.8" opacity="0.55"/>
<path d="M406.5,379.3 l6.8,3.9" stroke="#a86a38" stroke-width="0.8" opacity="0.55"/>
<path d="M386.5,406.9 l21.9,9.2" stroke="#ffffff" stroke-width="0.8" opacity="0.55"/>
<path d="M443.5,371.4 l20.8,11.3" stroke="#f0c8c0" stroke-width="0.8" opacity="0.55"/>
<path d="M328.4,431.7 l12.1,5.5" stroke="#b0c8c0" stroke-width="0.8" opacity="0.55"/>
<path d="M424.1,365.4 l12.5,6.8" stroke="#f0c8c0" stroke-width="0.8" opacity="0.55"/>
<path d="M322.7,392.8 l4.3,4.8" stroke="#b0c8c0" stroke-width="0.8" opacity="0.55"/>
<path d="M290.6,380.9 l11.8,7.9" stroke="#8aa0c0" stroke-width="0.8" opacity="0.55"/>
<path d="M359.4,379.9 l19.4,10.2" stroke="#ffffff" stroke-width="0.8" opacity="0.55"/>
<path d="M302.5,431.4 l11.3,7.3" stroke="#8aa0c0" stroke-width="0.8" opacity="0.55"/>
<path d="M386.2,402.0 l5.2,4.6" stroke="#c8d8e0" stroke-width="0.8" opacity="0.55"/>
<path d="M360.7,415.0 l7.0,7.2" stroke="#b0c8c0" stroke-width="0.8" opacity="0.55"/>
<path d="M361.6,397.0 l13.4,8.1" stroke="#c8d8e0" stroke-width="0.8" opacity="0.55"/>
<path d="M454.2,405.9 l7.1,5.7" stroke="#a86a38" stroke-width="0.8" opacity="0.55"/>
<path d="M429.9,373.7 l11.4,5.9" stroke="#f0c8c0" stroke-width="0.8" opacity="0.55"/>
<path d="M427.4,405.4 l10.4,10.1" stroke="#ffe0d0" stroke-width="0.8" opacity="0.55"/>
<path d="M339.3,364.0 l10.0,7.2" stroke="#b0c8c0" stroke-width="0.8" opacity="0.55"/>
<path d="M287.3,432.3 l15.7,7.6" stroke="#a0b0c0" stroke-width="0.8" opacity="0.55"/>
<path d="M370.2,453.9 l15.4,12.9" stroke="#c8d8e0" stroke-width="0.8" opacity="0.55"/>
<path d="M440.9,400.2 l11.7,10.0" stroke="#ffe0d0" stroke-width="0.8" opacity="0.55"/>
<path d="M358.6,413.9 l8.2,6.4" stroke="#b0c8c0" stroke-width="0.8" opacity="0.55"/>
<path d="M424.3,427.7 l12.5,5.1" stroke="#ffe0d0" stroke-width="0.8" opacity="0.55"/>
<path d="M301.9,397.5 l9.1,5.0" stroke="#a0b0c0" stroke-width="0.8" opacity="0.55"/>
<path d="M289.8,365.2 l15.1,6.5" stroke="#8aa0c0" stroke-width="0.8" opacity="0.55"/>
<path d="M292.0,412.4 l7.9,4.2" stroke="#a0b0c0" stroke-width="0.8" opacity="0.55"/>
<path d="M343.5,366.3 l10.9,5.4" stroke="#c8d8e0" stroke-width="0.8" opacity="0.55"/>
<path d="M291.7,450.1 l13.4,7.6" stroke="#a0b0c0" stroke-width="0.8" opacity="0.55"/>
<path d="M338.3,424.8 l7.8,6.8" stroke="#ffffff" stroke-width="0.8" opacity="0.55"/>
<path d="M393.4,383.5 l10.4,5.3" stroke="#c8d8e0" stroke-width="0.8" opacity="0.55"/>
<path d="M437.0,369.4 l13.7,11.5" stroke="#f0c8c0" stroke-width="0.8" opacity="0.55"/>
<path d="M452.1,391.7 l5.7,5.3" stroke="#f0c8c0" stroke-width="0.8" opacity="0.55"/>
<path d="M300.6,423.4 l9.7,6.0" stroke="#a0b0c0" stroke-width="0.8" opacity="0.55"/>
<path d="M436.5,401.9 l11.6,7.8" stroke="#ffe0d0" stroke-width="0.8" opacity="0.55"/>
<path d="M450.9,400.8 l11.4,5.4" stroke="#ffe0d0" stroke-width="0.8" opacity="0.55"/>
<path d="M298.5,363.0 l15.3,5.0" stroke="#8aa0c0" stroke-width="0.8" opacity="0.55"/>
<path d="M363.4,450.5 l15.8,12.9" stroke="#c8d8e0" stroke-width="0.8" opacity="0.55"/>
<path d="M317.6,419.7 l9.6,10.8" stroke="#a0b0c0" stroke-width="0.8" opacity="0.55"/>
<path d="M307.5,375.1 l17.4,14.4" stroke="#ffffff" stroke-width="0.8" opacity="0.55"/>
<path d="M349.1,387.4 l8.1,4.1" stroke="#b0c8c0" stroke-width="0.8" opacity="0.55"/>
<path d="M405.2,384.6 l8.5,3.1" stroke="#f0c8c0" stroke-width="0.8" opacity="0.55"/>
<path d="M287.6,426.3 l15.0,9.5" stroke="#ffffff" stroke-width="0.8" opacity="0.55"/>
<path d="M372.3,423.0 l14.6,6.1" stroke="#ffffff" stroke-width="0.8" opacity="0.55"/>
<path d="M282.9,424.8 l15.0,5.0" stroke="#a0b0c0" stroke-width="0.8" opacity="0.55"/>
<path d="M365.9,391.1 l24.9,9.4" stroke="#ffffff" stroke-width="0.8" opacity="0.55"/>
</g>
<g opacity="0.9">
<path d="M326,390 L326.5,446" stroke="#4a6cb0" stroke-width="2.2" fill="none" stroke-linecap="round" stroke-linejoin="round"/>
<path d="M326,404 C332,410 340,416 350,422" stroke="#6a88c0" stroke-width="1.4" fill="none" stroke-linecap="round" stroke-linejoin="round"/>
<path d="M354.5,393 L355,452" stroke="#4a6cb0" stroke-width="2.2" fill="none" stroke-linecap="round" stroke-linejoin="round"/>
<path d="M374,393 L374,452" stroke="#4a6cb0" stroke-width="2.2" fill="none" stroke-linecap="round" stroke-linejoin="round"/>
<path d="M402,388 L403,446" stroke="#4a88a0" stroke-width="2.2" fill="none" stroke-linecap="round" stroke-linejoin="round"/>
<path d="M402,418 C396,412 388,408 380,404" stroke="#6a98b0" stroke-width="1.4" fill="none" stroke-linecap="round" stroke-linejoin="round"/>
<path d="M363.5,394 L362.5,452" stroke="#d83434" stroke-width="3.2" fill="none" stroke-linecap="round" stroke-linejoin="round"/>
<path d="M362.5,404 C356,400 350,397 345,396" stroke="#dc4444" stroke-width="1.8" fill="none" stroke-linecap="round" stroke-linejoin="round"/>
<path d="M362,410 C356,409 350,410 346,412" stroke="#dc4444" stroke-width="1.4" fill="none" stroke-linecap="round" stroke-linejoin="round"/>
<path d="M363,420 C370,416 377,414 384,412" stroke="#dc4444" stroke-width="1.8" fill="none" stroke-linecap="round" stroke-linejoin="round"/>
<path d="M362,440 C356,439 350,438 345,435" stroke="#dc4444" stroke-width="1.8" fill="none" stroke-linecap="round" stroke-linejoin="round"/>
</g>
<path d="M276,413 A88,40 0 0 0 452,413" fill="none" stroke="#2c2848" stroke-width="1.6"/>
<path d="M276,354 L276,413" stroke="#6a6a60" stroke-width="1.2" opacity="0.6"/>
<path d="M200,349 C212,349.5 225,349 237,349 C243,350 247,351.5 250.4,353 C255,355 258,357 261,358.2 C265,359.5 268,359.8 270,359.5 C273,358.5 275,357 276.3,355.6 L279,351.7 L279,409 C278,406 277.6,405 277.6,404.9 C276,401 275,399 273.7,397 C270,393 267,390.5 263.4,388 C259,385 255,382.5 250.4,380.2 C246,378 242,376.5 237.4,375 C233,373.5 229,372 224.5,371 C220,370.3 216,370 211.5,369.8 C207,369.6 203,369.6 200,369.6 Z" fill="url(#gPaleL)"/>
<path d="M200,349 C212,349.5 225,349 237,349 C243,350 247,351.5 250.4,353 C255,355 258,357 261,358.2 C265,359.5 268,359.8 270,359.5 C273,358.5 275,357 276.3,355.6 L279,351.7 L279,409 C278,406 277.6,405 277.6,404.9 C276,401 275,399 273.7,397 C270,393 267,390.5 263.4,388 C259,385 255,382.5 250.4,380.2 C246,378 242,376.5 237.4,375 C233,373.5 229,372 224.5,371 C220,370.3 216,370 211.5,369.8 C207,369.6 203,369.6 200,369.6 Z" fill="url(#gSleeveV)"/>
<g clip-path="url(#cML)" fill="none">
<path d="M238.4,397.9 l17.2,7.9" stroke="#4a9090" stroke-width="0.8" opacity="0.45"/>
<path d="M254.7,375.3 l14.7,1.5" stroke="#7a94c0" stroke-width="0.8" opacity="0.45"/>
<path d="M227.6,373.8 l11.5,3.0" stroke="#f0f4f8" stroke-width="0.8" opacity="0.45"/>
<path d="M219.8,389.3 l14.7,2.2" stroke="#ffffff" stroke-width="0.8" opacity="0.45"/>
<path d="M213.8,369.0 l12.9,5.2" stroke="#4a9090" stroke-width="0.8" opacity="0.45"/>
<path d="M255.5,409.1 l15.0,9.2" stroke="#7a94c0" stroke-width="0.8" opacity="0.45"/>
<path d="M247.5,374.4 l16.0,2.1" stroke="#ffffff" stroke-width="0.8" opacity="0.45"/>
<path d="M246.0,354.2 l26.4,10.9" stroke="#f0f4f8" stroke-width="0.8" opacity="0.45"/>
<path d="M222.1,380.2 l15.1,5.7" stroke="#7a94c0" stroke-width="0.8" opacity="0.45"/>
<path d="M236.9,410.0 l11.7,4.3" stroke="#ffffff" stroke-width="0.8" opacity="0.45"/>
<path d="M266.6,393.9 l25.2,2.8" stroke="#ffffff" stroke-width="0.8" opacity="0.45"/>
<path d="M244.2,348.3 l20.8,12.3" stroke="#ffffff" stroke-width="0.8" opacity="0.45"/>
<path d="M215.3,389.9 l15.2,5.3" stroke="#4a9090" stroke-width="0.8" opacity="0.45"/>
<path d="M265.0,397.7 l15.0,6.0" stroke="#ffffff" stroke-width="0.8" opacity="0.45"/>
<path d="M277.6,350.7 l28.7,5.7" stroke="#ffffff" stroke-width="0.8" opacity="0.45"/>
<path d="M222.8,372.3 l22.4,11.1" stroke="#7a94c0" stroke-width="0.8" opacity="0.45"/>
<path d="M254.9,353.1 l22.0,8.2" stroke="#f0f4f8" stroke-width="0.8" opacity="0.45"/>
<path d="M212.4,352.2 l19.9,12.6" stroke="#ffffff" stroke-width="0.8" opacity="0.45"/>
<path d="M257.3,368.6 l24.4,8.0" stroke="#4a9090" stroke-width="0.8" opacity="0.45"/>
<path d="M252.9,349.8 l14.4,7.3" stroke="#4a9090" stroke-width="0.8" opacity="0.45"/>
<path d="M265.5,394.4 l14.0,2.1" stroke="#4a9090" stroke-width="0.8" opacity="0.45"/>
<path d="M262.6,407.3 l19.1,3.9" stroke="#4a9090" stroke-width="0.8" opacity="0.45"/>
<path d="M252.8,389.1 l29.7,3.7" stroke="#ffffff" stroke-width="0.8" opacity="0.45"/>
<path d="M228.4,359.3 l11.7,2.3" stroke="#f0f4f8" stroke-width="0.8" opacity="0.45"/>
<path d="M242.7,374.7 l17.1,7.0" stroke="#ffffff" stroke-width="0.8" opacity="0.45"/>
<path d="M241.3,350.5 l21.9,11.3" stroke="#4a9090" stroke-width="0.8" opacity="0.45"/>
<path d="M273.5,372.3 l20.2,3.5" stroke="#7a94c0" stroke-width="0.8" opacity="0.45"/>
<path d="M264.1,349.9 l15.8,9.1" stroke="#f0f4f8" stroke-width="0.8" opacity="0.45"/>
<path d="M264.1,377.7 l16.5,6.0" stroke="#ffffff" stroke-width="0.8" opacity="0.45"/>
<path d="M253.7,377.4 l10.4,4.1" stroke="#7a94c0" stroke-width="0.8" opacity="0.45"/>
<path d="M274.2,360.1 l24.4,13.3" stroke="#5aa0a0" stroke-width="0.8" opacity="0.45"/>
<path d="M218.6,398.6 l16.8,6.3" stroke="#ffffff" stroke-width="0.8" opacity="0.45"/>
<path d="M220.3,384.9 l28.1,7.1" stroke="#7a94c0" stroke-width="0.8" opacity="0.45"/>
<path d="M273.6,375.0 l12.6,2.7" stroke="#5aa0a0" stroke-width="0.8" opacity="0.45"/>
<path d="M240.7,367.6 l15.9,10.1" stroke="#4a9090" stroke-width="0.8" opacity="0.45"/>
<path d="M249.4,384.6 l15.7,6.2" stroke="#7a94c0" stroke-width="0.8" opacity="0.45"/>
<path d="M278.4,365.5 l10.0,6.1" stroke="#7a94c0" stroke-width="0.8" opacity="0.45"/>
<path d="M270.1,402.1 l14.9,7.5" stroke="#ffffff" stroke-width="0.8" opacity="0.45"/>
<path d="M234.7,366.8 l13.3,5.2" stroke="#f0f4f8" stroke-width="0.8" opacity="0.45"/>
<path d="M261.6,348.1 l20.0,11.1" stroke="#7a94c0" stroke-width="0.8" opacity="0.45"/>
<path d="M275.5,394.7 l26.2,3.6" stroke="#4a9090" stroke-width="0.8" opacity="0.45"/>
<path d="M235.4,366.0 l16.5,3.5" stroke="#7a94c0" stroke-width="0.8" opacity="0.45"/>
<path d="M274.2,382.6 l11.7,3.8" stroke="#ffffff" stroke-width="0.8" opacity="0.45"/>
<path d="M248.3,372.5 l18.8,10.6" stroke="#f0f4f8" stroke-width="0.8" opacity="0.45"/>
<path d="M225.6,405.2 l14.7,6.8" stroke="#ffffff" stroke-width="0.8" opacity="0.45"/>
<path d="M240.7,395.9 l21.4,11.6" stroke="#f0f4f8" stroke-width="0.8" opacity="0.45"/>
<path d="M228.2,394.3 l21.9,3.6" stroke="#7a94c0" stroke-width="0.8" opacity="0.45"/>
<path d="M271.3,369.3 l12.9,3.5" stroke="#ffffff" stroke-width="0.8" opacity="0.45"/>
<path d="M265.0,385.7 l9.7,5.9" stroke="#f0f4f8" stroke-width="0.8" opacity="0.45"/>
<path d="M231.8,378.2 l24.3,8.0" stroke="#7a94c0" stroke-width="0.8" opacity="0.45"/>
<path d="M244.8,355.5 l11.6,6.7" stroke="#ffffff" stroke-width="0.8" opacity="0.45"/>
<path d="M230.9,400.5 l13.2,4.5" stroke="#ffffff" stroke-width="0.8" opacity="0.45"/>
<path d="M236.6,370.7 l9.5,3.7" stroke="#ffffff" stroke-width="0.8" opacity="0.45"/>
<path d="M250.4,381.2 l10.1,1.4" stroke="#4a9090" stroke-width="0.8" opacity="0.45"/>
<path d="M224.7,408.8 l10.6,6.2" stroke="#7a94c0" stroke-width="0.8" opacity="0.45"/>
<path d="M262.1,407.7 l15.6,4.5" stroke="#ffffff" stroke-width="0.8" opacity="0.45"/>
<path d="M269.1,400.4 l22.9,15.3" stroke="#ffffff" stroke-width="0.8" opacity="0.45"/>
<path d="M278.9,358.2 l21.4,7.8" stroke="#4a9090" stroke-width="0.8" opacity="0.45"/>
<path d="M262.6,397.3 l27.1,12.7" stroke="#5aa0a0" stroke-width="0.8" opacity="0.45"/>
<path d="M249.3,353.0 l27.5,4.0" stroke="#ffffff" stroke-width="0.8" opacity="0.45"/>
</g>
<path d="M211.5,369.8 C216,370 220,370.3 224.5,371 C229,372 233,373.5 237.4,375 C242,376.5 246,378 250.4,380.2 C255,382.5 259,385 263.4,388 C267,390.5 270,393 273.7,397 C275,399 276,401 277.6,404.9" stroke="#3a4680" stroke-width="1.8" fill="none" opacity="0.85"/>
<path d="M209,349.5 C220,349.3 230,349 237,349 C243,350 247,351.5 250.4,353 C255,355 258,357 261,358.2 C265,359.5 268,359.8 270,359.5 C273,358.5 275,357 276.3,355.6" stroke="#4a5a88" stroke-width="1" fill="none" opacity="0.8"/>
<path d="M202,348.5 C199,344 196.5,339 193.5,334" stroke="#a87828" stroke-width="5.199999999999999" fill="none" stroke-linecap="round" stroke-linejoin="round"/><path d="M202,348.5 C199,344 196.5,339 193.5,334" stroke="#f2d47c" stroke-width="3.8" fill="none" stroke-linecap="round" stroke-linejoin="round"/>
<path d="M189.5,366 L190.5,380 L192.5,380.5 L209,367.5" stroke="#a87828" stroke-width="3.6" fill="none" stroke-linecap="round" stroke-linejoin="round"/><path d="M189.5,366 L190.5,380 L192.5,380.5 L209,367.5" stroke="#f2d47c" stroke-width="2.2" fill="none" stroke-linecap="round" stroke-linejoin="round"/>
<path d="M149,350.5 L211,348.7 L211,365.8 L149,364 Z" fill="url(#gTube)"/><path d="M149,358.9 L211,359.3" stroke="#d89820" stroke-width="1" opacity="0.4"/><path d="M149,350.9 L211,349.1" stroke="#9a6a20" stroke-width="0.8" opacity="0.8"/><path d="M149,363.6 L211,365.4" stroke="#b07418" stroke-width="0.9" opacity="0.8"/>
<ellipse cx="149" cy="356.8" rx="3.5" ry="7.3" fill="#e8b848" stroke="#6a4410" stroke-width="1"/><ellipse cx="149.2" cy="357.1" rx="1.9" ry="5.5" fill="#b87820" stroke="#8a5a14" stroke-width="0.5"/>
<path d="M448,362 C452,363 455,364 457,364 C461,363.5 464,362.5 466.3,361.5 C471,359 476,356 480.4,354.4 C484,353.4 488,352.8 492.2,352.7 C498,352.6 504,353.2 510,353.9 C515,354.2 520,354.4 524,354.6 L524,371.6 C519,372.5 514,373.8 510,374.5 C504,375.6 498,376.6 492.2,377.5 C486,378.4 480,379.3 474.5,380.4 C470,381.5 466,382.5 462.7,384 C459,386 457,388 455,390 C453,392.5 451,395 450,397 L448,397 Z" fill="url(#gPaleR)"/>
<path d="M448,362 C452,363 455,364 457,364 C461,363.5 464,362.5 466.3,361.5 C471,359 476,356 480.4,354.4 C484,353.4 488,352.8 492.2,352.7 C498,352.6 504,353.2 510,353.9 C515,354.2 520,354.4 524,354.6 L524,371.6 C519,372.5 514,373.8 510,374.5 C504,375.6 498,376.6 492.2,377.5 C486,378.4 480,379.3 474.5,380.4 C470,381.5 466,382.5 462.7,384 C459,386 457,388 455,390 C453,392.5 451,395 450,397 L448,397 Z" fill="url(#gSleeveV)"/>
<path d="M457,364 C461,363.5 464,362.5 466.3,361.5 C471,359 476,356 480.4,354.4 C484,353.4 488,352.8 492.2,352.7 C498,352.6 504,353.2 510,353.9" stroke="#4a5a88" stroke-width="1" fill="none" opacity="0.7"/>
<g clip-path="url(#cMR)" fill="none">
<path d="M459.1,355.0 l11.2,-2.7" stroke="#5a9aa0" stroke-width="0.6" opacity="0.35"/>
<path d="M448.5,371.1 l12.2,-0.5" stroke="#5a9aa0" stroke-width="0.6" opacity="0.35"/>
<path d="M467.8,371.4 l26.8,-6.7" stroke="#8ab0d0" stroke-width="0.6" opacity="0.35"/>
<path d="M493.9,350.7 l13.3,-2.2" stroke="#ffffff" stroke-width="0.6" opacity="0.35"/>
<path d="M460.2,378.2 l12.3,-0.7" stroke="#ffffff" stroke-width="0.6" opacity="0.35"/>
<path d="M481.4,369.7 l18.3,-2.5" stroke="#8ab0d0" stroke-width="0.6" opacity="0.35"/>
<path d="M505.2,363.5 l13.6,-4.1" stroke="#8ab0d0" stroke-width="0.6" opacity="0.35"/>
<path d="M475.7,368.7 l19.3,-2.0" stroke="#8ab0d0" stroke-width="0.6" opacity="0.35"/>
<path d="M465.4,366.6 l22.5,-6.7" stroke="#8ab0d0" stroke-width="0.6" opacity="0.35"/>
<path d="M450.2,394.5 l22.9,-3.3" stroke="#ffffff" stroke-width="0.6" opacity="0.35"/>
<path d="M512.6,374.5 l24.8,-0.7" stroke="#8ab0d0" stroke-width="0.6" opacity="0.35"/>
<path d="M445.5,385.2 l17.0,-5.8" stroke="#ffffff" stroke-width="0.6" opacity="0.35"/>
<path d="M482.1,389.6 l14.5,-0.6" stroke="#4a8a90" stroke-width="0.6" opacity="0.35"/>
<path d="M481.6,373.6 l24.0,-7.0" stroke="#8ab0d0" stroke-width="0.6" opacity="0.35"/>
<path d="M451.1,383.2 l24.6,-1.9" stroke="#ffffff" stroke-width="0.6" opacity="0.35"/>
<path d="M494.8,359.7 l14.1,-4.4" stroke="#4a8a90" stroke-width="0.6" opacity="0.35"/>
<path d="M508.5,362.6 l27.8,-0.6" stroke="#5a9aa0" stroke-width="0.6" opacity="0.35"/>
<path d="M476.9,377.1 l15.1,-1.8" stroke="#4a8a90" stroke-width="0.6" opacity="0.35"/>
<path d="M492.0,350.1 l17.6,-3.2" stroke="#ffffff" stroke-width="0.6" opacity="0.35"/>
<path d="M508.9,380.6 l23.1,-6.8" stroke="#ffffff" stroke-width="0.6" opacity="0.35"/>
<path d="M485.9,373.8 l25.1,-4.3" stroke="#8ab0d0" stroke-width="0.6" opacity="0.35"/>
<path d="M461.8,359.7 l10.6,-0.4" stroke="#ffffff" stroke-width="0.6" opacity="0.35"/>
<path d="M469.3,350.3 l10.2,-3.1" stroke="#ffffff" stroke-width="0.6" opacity="0.35"/>
<path d="M457.0,367.5 l24.4,-4.5" stroke="#4a8a90" stroke-width="0.6" opacity="0.35"/>
<path d="M489.4,353.0 l22.7,-6.3" stroke="#8ab0d0" stroke-width="0.6" opacity="0.35"/>
<path d="M454.9,363.7 l14.5,-0.7" stroke="#8ab0d0" stroke-width="0.6" opacity="0.35"/>
<path d="M485.6,357.2 l17.6,-1.8" stroke="#ffffff" stroke-width="0.6" opacity="0.35"/>
<path d="M477.4,369.3 l10.3,-1.3" stroke="#4a8a90" stroke-width="0.6" opacity="0.35"/>
<path d="M450.6,394.1 l17.1,-3.9" stroke="#ffffff" stroke-width="0.6" opacity="0.35"/>
<path d="M457.6,388.3 l11.7,-1.0" stroke="#ffffff" stroke-width="0.6" opacity="0.35"/>
</g>
<path d="M510,374.5 C504,375.6 498,376.6 492.2,377.5 C486,378.4 480,379.3 474.5,380.4 C470,381.5 466,382.5 462.7,384 C459,386 457,388 455,390 C453,392.5 451,395 450,397" stroke="#3a4680" stroke-width="1.4" fill="none" opacity="0.7"/>
<path d="M526,354 C529,350 532,346 535.5,342.5" stroke="#a87828" stroke-width="5.199999999999999" fill="none" stroke-linecap="round" stroke-linejoin="round"/><path d="M526,354 C529,350 532,346 535.5,342.5" stroke="#f2d47c" stroke-width="3.8" fill="none" stroke-linecap="round" stroke-linejoin="round"/>
<path d="M520,371.5 L534.5,389 L536.5,389 L536.7,372" stroke="#a87828" stroke-width="3.6" fill="none" stroke-linecap="round" stroke-linejoin="round"/><path d="M520,371.5 L534.5,389 L536.5,389 L536.7,372" stroke="#f2d47c" stroke-width="2.2" fill="none" stroke-linecap="round" stroke-linejoin="round"/>
<path d="M521,353.6 L580,354.8 L580,371.6 L521,372.8 Z" fill="url(#gTube)"/><path d="M521,365.5 L580,365.2" stroke="#d89820" stroke-width="1" opacity="0.4"/><path d="M521,354.0 L580,355.2" stroke="#9a6a20" stroke-width="0.8" opacity="0.8"/><path d="M521,372.4 L580,371.2" stroke="#b07418" stroke-width="0.9" opacity="0.8"/>
<ellipse cx="580" cy="363.2" rx="3.5" ry="8.2" fill="#e8b848" stroke="#6a4410" stroke-width="1"/><ellipse cx="580.2" cy="363.5" rx="1.9" ry="6.3999999999999995" fill="#b87820" stroke="#8a5a14" stroke-width="0.5"/>
<path d="M281,297.5 C282,290 290,282 300,277 C308,273 316,271 323.5,270.3 C328,268 332,266 336,265 C342,263.5 346,262.6 350.6,262.2 L363.2,262.2 L366,265.5 L369,262 C376,261.8 382,262.3 386.7,263 C392,264 397,266 401,268.5 L406.5,271.3 C420,275 432,280 440,286 C446,290 449,294 449,298 C448,306 442,314 430,320 C418,326 408,329 398,330.6 C388,332.4 378,333.5 368,334 L365,331.5 L362,334 C350,333.8 336,331 322.5,326 C308,321 296,315 289,309 C283,304 281,300 281,297.5 Z" fill="#f5edb8"/>
<g clip-path="url(#cSect)">
<path d="M329.1,283.3 L320.8,266.6" stroke="#d8c888" stroke-width="0.6" opacity="0.6"/>
<path d="M401.1,292.8 L414.0,277.6" stroke="#d8c888" stroke-width="0.6" opacity="0.6"/>
<path d="M406.4,320.6 L416.7,339.2" stroke="#d8c888" stroke-width="0.6" opacity="0.6"/>
<path d="M393.2,277.2 L391.0,248.5" stroke="#d8c888" stroke-width="0.6" opacity="0.6"/>
<path d="M409.4,297.7 L452.1,290.9" stroke="#d8c888" stroke-width="0.6" opacity="0.6"/>
<path d="M324.3,307.0 L301.4,326.5" stroke="#d8c888" stroke-width="0.6" opacity="0.6"/>
<path d="M319.8,312.0 L305.2,325.5" stroke="#d8c888" stroke-width="0.6" opacity="0.6"/>
<path d="M381.2,301.0 L349.2,303.3" stroke="#d8c888" stroke-width="0.6" opacity="0.6"/>
<path d="M420.0,297.4 L450.6,294.3" stroke="#d8c888" stroke-width="0.6" opacity="0.6"/>
<path d="M404.9,292.9 L434.6,271.6" stroke="#d8c888" stroke-width="0.6" opacity="0.6"/>
<path d="M361.2,295.8 L387.9,294.6" stroke="#d8c888" stroke-width="0.6" opacity="0.6"/>
<path d="M386.3,306.7 L356.7,329.7" stroke="#d8c888" stroke-width="0.6" opacity="0.6"/>
<path d="M402.9,287.8 L413.9,270.7" stroke="#d8c888" stroke-width="0.6" opacity="0.6"/>
<path d="M379.4,283.9 L367.5,271.4" stroke="#d8c888" stroke-width="0.6" opacity="0.6"/>
<path d="M379.4,298.7 L335.2,294.9" stroke="#d8c888" stroke-width="0.6" opacity="0.6"/>
<path d="M393.0,289.0 L387.9,260.6" stroke="#d8c888" stroke-width="0.6" opacity="0.6"/>
<path d="M327.8,287.7 L306.8,263.7" stroke="#d8c888" stroke-width="0.6" opacity="0.6"/>
<path d="M320.8,309.4 L300.8,325.7" stroke="#d8c888" stroke-width="0.6" opacity="0.6"/>
<path d="M348.2,295.9 L380.1,293.2" stroke="#d8c888" stroke-width="0.6" opacity="0.6"/>
<path d="M324.1,282.6 L301.7,255.5" stroke="#d8c888" stroke-width="0.6" opacity="0.6"/>
<path d="M420.5,294.0 L450.6,286.8" stroke="#d8c888" stroke-width="0.6" opacity="0.6"/>
<path d="M329.5,309.7 L315.4,337.3" stroke="#d8c888" stroke-width="0.6" opacity="0.6"/>
<path d="M393.6,322.9 L391.7,354.2" stroke="#d8c888" stroke-width="0.6" opacity="0.6"/>
<path d="M338.8,278.4 L341.6,260.2" stroke="#d8c888" stroke-width="0.6" opacity="0.6"/>
<path d="M409.3,318.5 L429.4,344.2" stroke="#d8c888" stroke-width="0.6" opacity="0.6"/>
<path d="M417.9,310.5 L431.2,316.7" stroke="#d8c888" stroke-width="0.6" opacity="0.6"/>
<path d="M350.6,284.7 L369.9,268.5" stroke="#d8c888" stroke-width="0.6" opacity="0.6"/>
<path d="M383.4,290.8 L355.4,268.6" stroke="#d8c888" stroke-width="0.6" opacity="0.6"/>
<path d="M380.7,286.9 L354.1,262.3" stroke="#d8c888" stroke-width="0.6" opacity="0.6"/>
<path d="M347.2,295.4 L369.5,292.2" stroke="#d8c888" stroke-width="0.6" opacity="0.6"/>
<path d="M393.9,309.1 L391.8,326.6" stroke="#d8c888" stroke-width="0.6" opacity="0.6"/>
<path d="M391.0,317.9 L387.1,335.6" stroke="#d8c888" stroke-width="0.6" opacity="0.6"/>
<path d="M343.2,290.4 L354.6,280.0" stroke="#d8c888" stroke-width="0.6" opacity="0.6"/>
<path d="M349.5,311.4 L370.3,333.5" stroke="#d8c888" stroke-width="0.6" opacity="0.6"/>
<path d="M340.1,307.2 L351.7,336.1" stroke="#d8c888" stroke-width="0.6" opacity="0.6"/>
<path d="M320.2,306.9 L307.8,314.6" stroke="#d8c888" stroke-width="0.6" opacity="0.6"/>
<path d="M401.0,289.8 L417.4,261.8" stroke="#d8c888" stroke-width="0.6" opacity="0.6"/>
<path d="M338.3,287.4 L341.7,273.6" stroke="#d8c888" stroke-width="0.6" opacity="0.6"/>
<path d="M321.1,292.2 L284.0,280.2" stroke="#d8c888" stroke-width="0.6" opacity="0.6"/>
<path d="M341.6,307.0 L356.2,333.0" stroke="#d8c888" stroke-width="0.6" opacity="0.6"/>
<path d="M351.0,286.4 L365.7,276.0" stroke="#d8c888" stroke-width="0.6" opacity="0.6"/>
<path d="M339.0,312.6 L343.2,334.0" stroke="#d8c888" stroke-width="0.6" opacity="0.6"/>
<path d="M405.9,292.2 L423.8,279.4" stroke="#d8c888" stroke-width="0.6" opacity="0.6"/>
<path d="M352.6,284.5 L367.0,273.7" stroke="#d8c888" stroke-width="0.6" opacity="0.6"/>
<path d="M311.9,303.4 L291.0,309.0" stroke="#d8c888" stroke-width="0.6" opacity="0.6"/>
<path d="M411.5,283.2 L431.1,263.3" stroke="#d8c888" stroke-width="0.6" opacity="0.6"/>
<path d="M329.2,281.0 L320.2,260.0" stroke="#d8c888" stroke-width="0.6" opacity="0.6"/>
<path d="M330.8,311.4 L322.5,334.5" stroke="#d8c888" stroke-width="0.6" opacity="0.6"/>
<path d="M357.3,313.2 L380.7,331.0" stroke="#d8c888" stroke-width="0.6" opacity="0.6"/>
<path d="M399.1,321.9 L405.6,356.5" stroke="#d8c888" stroke-width="0.6" opacity="0.6"/>
<path d="M410.8,308.9 L444.3,327.8" stroke="#d8c888" stroke-width="0.6" opacity="0.6"/>
<path d="M412.5,302.4 L451.9,307.7" stroke="#d8c888" stroke-width="0.6" opacity="0.6"/>
<path d="M403.9,292.1 L415.5,281.8" stroke="#d8c888" stroke-width="0.6" opacity="0.6"/>
<path d="M423.9,304.4 L445.6,307.7" stroke="#d8c888" stroke-width="0.6" opacity="0.6"/>
<path d="M312.4,300.6 L289.1,304.1" stroke="#d8c888" stroke-width="0.6" opacity="0.6"/>
<path d="M341.4,283.9 L351.4,259.5" stroke="#d8c888" stroke-width="0.6" opacity="0.6"/>
<path d="M410.2,295.3 L426.1,290.4" stroke="#d8c888" stroke-width="0.6" opacity="0.6"/>
<path d="M414.9,314.9 L441.0,334.3" stroke="#d8c888" stroke-width="0.6" opacity="0.6"/>
<path d="M376.6,284.1 L349.7,260.8" stroke="#d8c888" stroke-width="0.6" opacity="0.6"/>
<path d="M411.0,304.2 L449.4,314.2" stroke="#d8c888" stroke-width="0.6" opacity="0.6"/>
<path d="M402.0,319.0 L409.0,337.9" stroke="#d8c888" stroke-width="0.6" opacity="0.6"/>
<path d="M373.4,294.8 L354.6,290.3" stroke="#d8c888" stroke-width="0.6" opacity="0.6"/>
<path d="M354.8,305.6 L380.6,317.4" stroke="#d8c888" stroke-width="0.6" opacity="0.6"/>
<path d="M372.6,315.0 L346.9,332.2" stroke="#d8c888" stroke-width="0.6" opacity="0.6"/>
<path d="M389.3,289.9 L376.7,267.6" stroke="#d8c888" stroke-width="0.6" opacity="0.6"/>
<path d="M313.4,301.2 L272.2,308.9" stroke="#d8c888" stroke-width="0.6" opacity="0.6"/>
<path d="M349.5,312.5 L369.5,335.4" stroke="#d8c888" stroke-width="0.6" opacity="0.6"/>
<path d="M396.1,316.1 L397.7,338.9" stroke="#d8c888" stroke-width="0.6" opacity="0.6"/>
<path d="M379.9,292.2 L356.3,279.9" stroke="#d8c888" stroke-width="0.6" opacity="0.6"/>
<path d="M415.6,298.5 L454.1,295.6" stroke="#d8c888" stroke-width="0.6" opacity="0.6"/>
<path d="M418.3,310.0 L447.8,322.7" stroke="#d8c888" stroke-width="0.6" opacity="0.6"/>
<path d="M403.4,293.6 L435.4,269.4" stroke="#d8c888" stroke-width="0.6" opacity="0.6"/>
<path d="M334.8,312.4 L333.7,326.7" stroke="#d8c888" stroke-width="0.6" opacity="0.6"/>
<path d="M374.5,304.9 L342.6,312.5" stroke="#d8c888" stroke-width="0.6" opacity="0.6"/>
<path d="M401.4,308.3 L415.2,326.3" stroke="#d8c888" stroke-width="0.6" opacity="0.6"/>
<path d="M399.5,314.6 L403.2,326.7" stroke="#d8c888" stroke-width="0.6" opacity="0.6"/>
<path d="M329.1,285.6 L320.9,271.8" stroke="#d8c888" stroke-width="0.6" opacity="0.6"/>
<path d="M393.2,291.5 L388.5,269.9" stroke="#d8c888" stroke-width="0.6" opacity="0.6"/>
<path d="M322.7,287.9 L290.1,265.6" stroke="#d8c888" stroke-width="0.6" opacity="0.6"/>
<path d="M400.7,306.6 L425.6,335.5" stroke="#d8c888" stroke-width="0.6" opacity="0.6"/>
<path d="M321.8,300.7 L283.7,310.5" stroke="#d8c888" stroke-width="0.6" opacity="0.6"/>
<path d="M387.4,292.3 L367.7,272.1" stroke="#d8c888" stroke-width="0.6" opacity="0.6"/>
<path d="M383.6,290.8 L359.5,271.4" stroke="#d8c888" stroke-width="0.6" opacity="0.6"/>
<path d="M311.0,298.2 L289.9,299.2" stroke="#d8c888" stroke-width="0.6" opacity="0.6"/>
<path d="M357.0,281.2 L368.1,272.9" stroke="#d8c888" stroke-width="0.6" opacity="0.6"/>
<path d="M403.9,284.3 L411.0,271.8" stroke="#d8c888" stroke-width="0.6" opacity="0.6"/>
<path d="M363.0,298.0 L387.0,299.0" stroke="#d8c888" stroke-width="0.6" opacity="0.6"/>
<path d="M328.5,286.7 L314.4,267.2" stroke="#d8c888" stroke-width="0.6" opacity="0.6"/>
<path d="M360.9,306.1 L381.3,313.5" stroke="#d8c888" stroke-width="0.6" opacity="0.6"/>
<path d="M336.3,310.2 L336.8,332.9" stroke="#d8c888" stroke-width="0.6" opacity="0.6"/>
<path d="M321.3,276.3 C330,280 342,288 350.8,296.3 C351,302 349,308 347.3,312.9 C340,315 333,317 327.2,317.6 C322,311 318,304 315.4,297.5 C316,290 318,282 321.3,276.3 Z" fill="#c47c3c" filter="url(#fBlur)" opacity="0.78"/>
<path d="M383.9,290.4 C390,288 396,286.5 402.8,285.7 C408,290 412,295 414.6,301 C410,308 405,313 400.4,317.6 C394,315 386,312 379.2,309.3 C379,303 381,296 383.9,290.4 Z" fill="#c88c4c" filter="url(#fBlur)" opacity="0.75"/>
<path d="M398.5,310.7 L399.8,318.3" stroke="#c88848" stroke-width="0.8" opacity="0.7"/>
<path d="M328.3,307.0 L323.9,314.9" stroke="#c88848" stroke-width="0.8" opacity="0.7"/>
<path d="M391.1,292.9 L386.4,286.6" stroke="#c88848" stroke-width="0.8" opacity="0.7"/>
<path d="M326.3,305.1 L320.2,311.4" stroke="#c88848" stroke-width="0.8" opacity="0.7"/>
<path d="M402.0,309.6 L405.9,316.4" stroke="#c88848" stroke-width="0.8" opacity="0.7"/>
<path d="M389.7,308.0 L383.9,313.5" stroke="#c88848" stroke-width="0.8" opacity="0.7"/>
<path d="M405.5,295.2 L412.1,290.6" stroke="#c88848" stroke-width="0.8" opacity="0.7"/>
<path d="M324.2,301.2 L316.5,304.5" stroke="#c88848" stroke-width="0.8" opacity="0.7"/>
<path d="M402.5,292.6 L406.8,286.1" stroke="#c88848" stroke-width="0.8" opacity="0.7"/>
<path d="M398.6,310.7 L399.8,318.3" stroke="#c88848" stroke-width="0.8" opacity="0.7"/>
<path d="M323.7,299.3 L315.6,301.0" stroke="#c88848" stroke-width="0.8" opacity="0.7"/>
<path d="M389.6,294.1 L383.7,288.6" stroke="#c88848" stroke-width="0.8" opacity="0.7"/>
<path d="M386.5,300.9 L378.3,300.7" stroke="#c88848" stroke-width="0.8" opacity="0.7"/>
<path d="M406.6,305.0 L414.2,308.1" stroke="#c88848" stroke-width="0.8" opacity="0.7"/>
<path d="M338.5,286.3 L342.1,277.8" stroke="#c88848" stroke-width="0.8" opacity="0.7"/>
<path d="M333.9,308.9 L333.8,318.2" stroke="#c88848" stroke-width="0.8" opacity="0.7"/>
<path d="M338.9,307.5 L342.7,315.8" stroke="#c88848" stroke-width="0.8" opacity="0.7"/>
<path d="M331.0,285.6 L328.6,276.7" stroke="#c88848" stroke-width="0.8" opacity="0.7"/>
<path d="M337.5,308.2 L340.2,317.1" stroke="#c88848" stroke-width="0.8" opacity="0.7"/>
<path d="M399.7,291.5 L401.9,284.1" stroke="#c88848" stroke-width="0.8" opacity="0.7"/>
<path d="M343.3,302.5 L350.7,306.7" stroke="#c88848" stroke-width="0.8" opacity="0.7"/>
<path d="M325.5,304.0 L318.8,309.5" stroke="#c88848" stroke-width="0.8" opacity="0.7"/>
<path d="M334.3,308.9 L334.5,318.2" stroke="#c88848" stroke-width="0.8" opacity="0.7"/>
<path d="M406.5,296.8 L414.0,293.6" stroke="#c88848" stroke-width="0.8" opacity="0.7"/>
<path d="M326.7,305.5 L321.0,312.3" stroke="#c88848" stroke-width="0.8" opacity="0.7"/>
<path d="M391.8,309.5 L387.7,316.2" stroke="#c88848" stroke-width="0.8" opacity="0.7"/>
<path d="M391.6,309.4 L387.3,316.0" stroke="#c88848" stroke-width="0.8" opacity="0.7"/>
<path d="M387.4,297.0 L379.9,293.8" stroke="#c88848" stroke-width="0.8" opacity="0.7"/>
<path d="M340.6,287.8 L345.8,280.5" stroke="#c88848" stroke-width="0.8" opacity="0.7"/>
<path d="M330.6,285.7 L328.0,276.9" stroke="#c88848" stroke-width="0.8" opacity="0.7"/>
<path d="M387.8,296.4 L380.5,292.7" stroke="#c88848" stroke-width="0.8" opacity="0.7"/>
<path d="M398.6,310.7 L399.8,318.3" stroke="#c88848" stroke-width="0.8" opacity="0.7"/>
<path d="M393.4,310.2 L390.6,317.5" stroke="#c88848" stroke-width="0.8" opacity="0.7"/>
<path d="M330.3,285.9 L327.4,277.1" stroke="#c88848" stroke-width="0.8" opacity="0.7"/>
<path d="M400.9,291.9 L404.0,284.8" stroke="#c88848" stroke-width="0.8" opacity="0.7"/>
<path d="M407.4,299.6 L415.5,298.4" stroke="#c88848" stroke-width="0.8" opacity="0.7"/>
<path d="M392.3,292.2 L388.6,285.4" stroke="#c88848" stroke-width="0.8" opacity="0.7"/>
<path d="M391.6,292.6 L387.3,286.0" stroke="#c88848" stroke-width="0.8" opacity="0.7"/>
<path d="M328.8,307.3 L324.7,315.5" stroke="#c88848" stroke-width="0.8" opacity="0.7"/>
<path d="M407.5,301.2 L415.7,301.3" stroke="#c88848" stroke-width="0.8" opacity="0.7"/>
<path d="M330.5,308.2 L327.7,317.0" stroke="#c88848" stroke-width="0.8" opacity="0.7"/>
<path d="M401.5,309.8 L405.1,316.8" stroke="#c88848" stroke-width="0.8" opacity="0.7"/>
<path d="M392.4,292.2 L388.7,285.3" stroke="#c88848" stroke-width="0.8" opacity="0.7"/>
<path d="M329.8,307.9 L326.5,316.5" stroke="#c88848" stroke-width="0.8" opacity="0.7"/>
<path d="M388.3,295.5 L381.5,291.1" stroke="#c88848" stroke-width="0.8" opacity="0.7"/>
<path d="M330.7,285.7 L328.1,276.8" stroke="#c88848" stroke-width="0.8" opacity="0.7"/>
<path d="M387.7,305.5 L380.3,309.0" stroke="#c88848" stroke-width="0.8" opacity="0.7"/>
<path d="M336.7,285.5 L338.7,276.4" stroke="#c88848" stroke-width="0.8" opacity="0.7"/>
<path d="M340.4,287.6 L345.4,280.2" stroke="#c88848" stroke-width="0.8" opacity="0.7"/>
<path d="M333.6,308.9 L333.3,318.2" stroke="#c88848" stroke-width="0.8" opacity="0.7"/>
<path d="M339.9,287.2 L344.6,279.5" stroke="#c88848" stroke-width="0.8" opacity="0.7"/>
<path d="M323.5,297.9 L315.3,298.6" stroke="#c88848" stroke-width="0.8" opacity="0.7"/>
<path d="M403.6,293.4 L408.8,287.4" stroke="#c88848" stroke-width="0.8" opacity="0.7"/>
<path d="M399.7,310.5 L401.8,317.9" stroke="#c88848" stroke-width="0.8" opacity="0.7"/>
<path d="M400.1,291.6 L402.6,284.3" stroke="#c88848" stroke-width="0.8" opacity="0.7"/>
<path d="M342.5,290.0 L349.2,284.5" stroke="#c88848" stroke-width="0.8" opacity="0.7"/>
<path d="M328.6,286.8 L324.3,278.8" stroke="#c88848" stroke-width="0.8" opacity="0.7"/>
<path d="M336.5,285.4 L338.5,276.4" stroke="#c88848" stroke-width="0.8" opacity="0.7"/>
<path d="M332.2,285.3 L330.7,276.1" stroke="#c88848" stroke-width="0.8" opacity="0.7"/>
<path d="M340.2,287.4 L345.1,279.9" stroke="#c88848" stroke-width="0.8" opacity="0.7"/>
</g>
<path d="M281,297.5 C282,290 290,282 300,277 C308,273 316,271 323.5,270.3 C328,268 332,266 336,265 C342,263.5 346,262.6 350.6,262.2 L363.2,262.2 L366,265.5 L369,262 C376,261.8 382,262.3 386.7,263 C392,264 397,266 401,268.5 L406.5,271.3 C420,275 432,280 440,286 C446,290 449,294 449,298 C448,306 442,314 430,320 C418,326 408,329 398,330.6 C388,332.4 378,333.5 368,334 L365,331.5 L362,334 C350,333.8 336,331 322.5,326 C308,321 296,315 289,309 C283,304 281,300 281,297.5 Z" fill="none" stroke="#6e5030" stroke-width="0.9"/>
<path d="M366,265.5 L366,293" stroke="#8a6a38" stroke-width="1.2"/>
<rect x="354.5" y="293.5" width="20" height="4.5" fill="#fffbe8" stroke="#3a2a18" stroke-width="0.9"/>
<path d="M365,313 L365,334" stroke="#fff" stroke-width="1.6"/><path d="M363.5,313 L363.5,334 M366.5,313 L366.5,334" stroke="#9a8060" stroke-width="0.5"/>
<path d="M200,295 C222,296 240,299 252,303 C264,307 274,314 285,321 L283,334 C276,327 268,321 259,316 C246,309 232,304 200,302 Z" fill="url(#gVentL)" stroke="#7a5028" stroke-width="1.3"/>
<path d="M268,315.0 C276,319.0 284,322.0 296,324.0 C306,323.0 316,328.0 325,331.0" stroke="#6a4018" stroke-width="3.4" fill="none" opacity="0.5"/>
<path d="M268,315.0 C276,319.0 284,322.0 296,324.0 C306,323.0 316,328.0 325,331.0" stroke="#dfbc7c" stroke-width="2.0" fill="none"/>
<path d="M268,317.3 C276,321.5 284,324.6 296,327.6 C306,329.6 316,334.6 325,337.6" stroke="#6a4018" stroke-width="3.4" fill="none" opacity="0.5"/>
<path d="M268,317.3 C276,321.5 284,324.6 296,327.6 C306,329.6 316,334.6 325,337.6" stroke="#dfbc7c" stroke-width="2.0" fill="none"/>
<path d="M268,319.6 C276,324.0 284,327.2 296,331.2 C306,336.2 316,341.2 325,344.2" stroke="#6a4018" stroke-width="3.4" fill="none" opacity="0.5"/>
<path d="M268,319.6 C276,324.0 284,327.2 296,331.2 C306,336.2 316,341.2 325,344.2" stroke="#dfbc7c" stroke-width="2.0" fill="none"/>
<path d="M268,321.9 C276,326.5 284,329.8 296,334.8 C306,342.8 316,347.8 325,350.8" stroke="#6a4018" stroke-width="3.4" fill="none" opacity="0.5"/>
<path d="M268,321.9 C276,326.5 284,329.8 296,334.8 C306,342.8 316,347.8 325,350.8" stroke="#dfbc7c" stroke-width="2.0" fill="none"/>
<path d="M268,324.2 C276,329.0 284,332.4 296,338.4 C306,349.4 316,354.4 325,357.4" stroke="#6a4018" stroke-width="3.4" fill="none" opacity="0.5"/>
<path d="M268,324.2 C276,329.0 284,332.4 296,338.4 C306,349.4 316,354.4 325,357.4" stroke="#dfbc7c" stroke-width="2.0" fill="none"/>
<path d="M268,326.5 C276,331.5 284,335.0 296,342.0 C306,356.0 316,361.0 325,364.0" stroke="#6a4018" stroke-width="3.4" fill="none" opacity="0.5"/>
<path d="M268,326.5 C276,331.5 284,335.0 296,342.0 C306,356.0 316,361.0 325,364.0" stroke="#dfbc7c" stroke-width="2.0" fill="none"/>
<path d="M268,328.8 C276,334.0 284,337.6 296,345.6 C306,362.6 316,367.6 325,370.6" stroke="#6a4018" stroke-width="3.4" fill="none" opacity="0.5"/>
<path d="M268,328.8 C276,334.0 284,337.6 296,345.6 C306,362.6 316,367.6 325,370.6" stroke="#dfbc7c" stroke-width="2.0" fill="none"/>
<path d="M268,331.1 C276,336.5 284,340.2 296,349.2 C306,369.2 316,374.2 325,377.2" stroke="#6a4018" stroke-width="3.4" fill="none" opacity="0.5"/>
<path d="M268,331.1 C276,336.5 284,340.2 296,349.2 C306,369.2 316,374.2 325,377.2" stroke="#dfbc7c" stroke-width="2.0" fill="none"/>
<path d="M212,299 C232,301 250,306 262,311 C270,315 277,321 284,327" stroke="#a87c48" stroke-width="0.8" fill="none" opacity="0.8"/>
<path d="M262,286 C270,287 276,287 284,285 L285,293 L284,301 C276,301 268,300 262,299 Z" fill="#7a5430"/>
<path d="M260,287.0 C268,287.0 276,285.0 285,285.0" stroke="#4a2c14" stroke-width="1" fill="none" opacity="0.9"/>
<path d="M260,288.8 C268,288.8 276,287.3 285,287.3" stroke="#d0aa78" stroke-width="1" fill="none" opacity="0.9"/>
<path d="M260,290.6 C268,290.6 276,289.6 285,289.6" stroke="#4a2c14" stroke-width="1" fill="none" opacity="0.9"/>
<path d="M260,292.4 C268,292.4 276,291.9 285,291.9" stroke="#d0aa78" stroke-width="1" fill="none" opacity="0.9"/>
<path d="M260,294.2 C268,294.2 276,294.2 285,294.2" stroke="#4a2c14" stroke-width="1" fill="none" opacity="0.9"/>
<path d="M260,296.0 C268,296.0 276,296.5 285,296.5" stroke="#d0aa78" stroke-width="1" fill="none" opacity="0.9"/>
<path d="M260,297.8 C268,297.8 276,298.8 285,298.8" stroke="#4a2c14" stroke-width="1" fill="none" opacity="0.9"/>
<path d="M279,293 C284,284 294,278 304,274 C310,272 316,270 323,268.5" stroke="#6a4424" stroke-width="4.5" fill="none" stroke-linecap="round"/>
<path d="M281,291 C286,283 295,277.5 304,274.5 C310,272.5 316,270.5 323,269" stroke="#b08a58" stroke-width="1" fill="none" opacity="0.8"/>
<path d="M198,281.5 C208,280 215,279 222,278.6 C232,278 240,278.6 246,280.5 C254,283 262,286.5 270,288 L272,300.5 C264,300 256,299 248,297.5 C238,296 226,295 214,294.8 C208,294.8 202,295.5 198,296 Z" fill="url(#gGangL)" stroke="#9a6c38" stroke-width="0.8"/>
<path d="M198,281.5 C208,280 215,279 222,278.6 C232,278 240,278.6 246,280.5 C254,283 262,286.5 270,288 L272,300.5 C264,300 256,299 248,297.5 C238,296 226,295 214,294.8 C208,294.8 202,295.5 198,296 Z" fill="url(#gShadeV)"/>
<path d="M222,283 C232,281.5 242,282.5 252,286" stroke="#faf0d0" stroke-width="2.4" fill="none" opacity="0.75" stroke-linecap="round"/>
<path d="M195.5,281.5 L194.5,270" stroke="#a87828" stroke-width="5.800000000000001" fill="none" stroke-linecap="round" stroke-linejoin="round"/><path d="M195.5,281.5 L194.5,270" stroke="#f2d47c" stroke-width="4.4" fill="none" stroke-linecap="round" stroke-linejoin="round"/>
<path d="M192.2,297 L191.7,312.2 L194,313 L208.9,300" stroke="#a87828" stroke-width="3.6" fill="none" stroke-linecap="round" stroke-linejoin="round"/><path d="M192.2,297 L191.7,312.2 L194,313 L208.9,300" stroke="#f2d47c" stroke-width="2.2" fill="none" stroke-linecap="round" stroke-linejoin="round"/>
<path d="M151,282.5 L208,281.3 L208,297.2 L151,296 Z" fill="url(#gTube)"/><path d="M151,290.9 L208,291.2" stroke="#d89820" stroke-width="1" opacity="0.4"/><path d="M151,282.9 L208,281.7" stroke="#9a6a20" stroke-width="0.8" opacity="0.8"/><path d="M151,295.6 L208,296.8" stroke="#b07418" stroke-width="0.9" opacity="0.8"/>
<ellipse cx="152" cy="289.2" rx="3.5" ry="7.2" fill="#e8b848" stroke="#6a4410" stroke-width="1"/><ellipse cx="152.2" cy="289.5" rx="1.9" ry="5.4" fill="#b87820" stroke="#8a5a14" stroke-width="0.5"/>
<path d="M476,290 C466,290.5 458,289 452,286 C448,284 444,281 440,279 L449,296 L450,309 C456,305 464,302.5 476,302.5 Z" fill="#6a4424"/>
<path d="M478,291.0 C468,291.0 458,281.0 446,281.0" stroke="#3e2410" stroke-width="1" fill="none" opacity="0.9"/>
<path d="M478,292.7 C468,292.7 458,284.6 446,284.6" stroke="#c09868" stroke-width="1" fill="none" opacity="0.9"/>
<path d="M478,294.4 C468,294.4 458,288.2 446,288.2" stroke="#3e2410" stroke-width="1" fill="none" opacity="0.9"/>
<path d="M478,296.1 C468,296.1 458,291.8 446,291.8" stroke="#c09868" stroke-width="1" fill="none" opacity="0.9"/>
<path d="M478,297.8 C468,297.8 458,295.4 446,295.4" stroke="#3e2410" stroke-width="1" fill="none" opacity="0.9"/>
<path d="M478,299.5 C468,299.5 458,299.0 446,299.0" stroke="#c09868" stroke-width="1" fill="none" opacity="0.9"/>
<path d="M478,301.2 C468,301.2 458,302.6 446,302.6" stroke="#3e2410" stroke-width="1" fill="none" opacity="0.9"/>
<path d="M451,294 C446,286 436,280 426,276 C420,274 414,272 408,270.5" stroke="#6a4424" stroke-width="4.5" fill="none" stroke-linecap="round"/>
<path d="M449,292 C444,285 435,279.5 426,276.5 C420,274.5 414,272.5 408,271" stroke="#b08a58" stroke-width="1" fill="none" opacity="0.8"/>
<path d="M530,298.5 C515,299.2 505,300.5 491,301.5 C484,302.5 480,303.5 475.8,305.3 C470,308 465,310.5 460.6,313 C456,316 452,318.5 447,322 L447,341 C449,339.5 451,337.5 453,335.8 C456,332 458,329.5 460.6,326.7 C463,323 466,320 468.2,317.5 C471,315.5 473,314 475.8,313 C481,310.5 486,308.5 491,307.8 C500,306.5 508,305.8 515.6,305.3 C522,305.2 526,305.3 530,305.5 Z" fill="url(#gVentR)" stroke="#7a5028" stroke-width="1.3"/>
<path d="M462,316.0 C456,319.0 450,322.0 440,325.0 C428,329.0 414,334.0 403,337.0" stroke="#4a2810" stroke-width="3.4" fill="none" opacity="0.55"/>
<path d="M462,316.0 C456,319.0 450,322.0 440,325.0 C428,329.0 414,334.0 403,337.0" stroke="#dcb878" stroke-width="2.0" fill="none"/>
<path d="M462,318.8 C456,322.0 450,325.2 440,329.0 C428,335.3 414,340.3 403,343.3" stroke="#4a2810" stroke-width="3.4" fill="none" opacity="0.55"/>
<path d="M462,318.8 C456,322.0 450,325.2 440,329.0 C428,335.3 414,340.3 403,343.3" stroke="#dcb878" stroke-width="2.0" fill="none"/>
<path d="M462,321.6 C456,325.0 450,328.4 440,333.0 C428,341.6 414,346.6 403,349.6" stroke="#4a2810" stroke-width="3.4" fill="none" opacity="0.55"/>
<path d="M462,321.6 C456,325.0 450,328.4 440,333.0 C428,341.6 414,346.6 403,349.6" stroke="#dcb878" stroke-width="2.0" fill="none"/>
<path d="M462,324.4 C456,328.0 450,331.6 440,337.0 C428,347.9 414,352.9 403,355.9" stroke="#4a2810" stroke-width="3.4" fill="none" opacity="0.55"/>
<path d="M462,324.4 C456,328.0 450,331.6 440,337.0 C428,347.9 414,352.9 403,355.9" stroke="#dcb878" stroke-width="2.0" fill="none"/>
<path d="M462,327.2 C456,331.0 450,334.8 440,341.0 C428,354.2 414,359.2 403,362.2" stroke="#4a2810" stroke-width="3.4" fill="none" opacity="0.55"/>
<path d="M462,327.2 C456,331.0 450,334.8 440,341.0 C428,354.2 414,359.2 403,362.2" stroke="#dcb878" stroke-width="2.0" fill="none"/>
<path d="M462,330.0 C456,334.0 450,338.0 440,345.0 C428,360.5 414,365.5 403,368.5" stroke="#4a2810" stroke-width="3.4" fill="none" opacity="0.55"/>
<path d="M462,330.0 C456,334.0 450,338.0 440,345.0 C428,360.5 414,365.5 403,368.5" stroke="#dcb878" stroke-width="2.0" fill="none"/>
<path d="M462,332.8 C456,337.0 450,341.2 440,349.0 C428,366.8 414,371.8 403,374.8" stroke="#4a2810" stroke-width="3.4" fill="none" opacity="0.55"/>
<path d="M462,332.8 C456,337.0 450,341.2 440,349.0 C428,366.8 414,371.8 403,374.8" stroke="#dcb878" stroke-width="2.0" fill="none"/>
<path d="M462,335.6 C456,340.0 450,344.4 440,353.0 C428,373.1 414,378.1 403,381.1" stroke="#4a2810" stroke-width="3.4" fill="none" opacity="0.55"/>
<path d="M462,335.6 C456,340.0 450,344.4 440,353.0 C428,373.1 414,378.1 403,381.1" stroke="#dcb878" stroke-width="2.0" fill="none"/>
<path d="M528,300.5 C505,302.5 478,307.0 449,325.0" stroke="#fbeccc" stroke-width="0.9" fill="none" opacity="0.8"/>
<path d="M525,301.8 C505,304.0 478,309.4 449,329.0" stroke="#b08a58" stroke-width="0.9" fill="none" opacity="0.8"/>
<path d="M522,303.1 C505,305.5 478,311.8 449,333.0" stroke="#fbeccc" stroke-width="0.9" fill="none" opacity="0.8"/>
<path d="M519,304.4 C505,307.0 478,314.2 449,337.0" stroke="#b08a58" stroke-width="0.9" fill="none" opacity="0.8"/>
<path d="M474,290 C478,288.5 482,286 488,284.2 C496,283 504,283.6 510,285 C516,286.5 522,287.4 530,287.4 L530,301 C522,300 514,300.2 506,300.6 C498,301.5 490,303 482,303.6 C478,303.6 476,303 474,302.5 Z" fill="url(#gGangR)" stroke="#9a6c38" stroke-width="0.8"/>
<path d="M474,290 C478,288.5 482,286 488,284.2 C496,283 504,283.6 510,285 C516,286.5 522,287.4 530,287.4 L530,301 C522,300 514,300.2 506,300.6 C498,301.5 490,303 482,303.6 C478,303.6 476,303 474,302.5 Z" fill="url(#gShadeV)"/>
<path d="M486,289 C496,286.5 506,287 516,289.5" stroke="#faf0d0" stroke-width="2.4" fill="none" opacity="0.75" stroke-linecap="round"/>
<path d="M531,287 C533,283 535,279 536.5,276.5" stroke="#a87828" stroke-width="5.800000000000001" fill="none" stroke-linecap="round" stroke-linejoin="round"/><path d="M531,287 C533,283 535,279 536.5,276.5" stroke="#f2d47c" stroke-width="4.4" fill="none" stroke-linecap="round" stroke-linejoin="round"/>
<path d="M519,303.5 L533,320.5 L535.5,321 L536,303.5" stroke="#a87828" stroke-width="3.6" fill="none" stroke-linecap="round" stroke-linejoin="round"/><path d="M519,303.5 L533,320.5 L535.5,321 L536,303.5" stroke="#f2d47c" stroke-width="2.2" fill="none" stroke-linecap="round" stroke-linejoin="round"/>
<path d="M520,286.8 L578,288 L578,302.3 L520,303.5 Z" fill="url(#gTube)"/><path d="M520,297.2 L578,296.9" stroke="#d89820" stroke-width="1" opacity="0.4"/><path d="M520,287.2 L578,288.4" stroke="#9a6a20" stroke-width="0.8" opacity="0.8"/><path d="M520,303.1 L578,301.9" stroke="#b07418" stroke-width="0.9" opacity="0.8"/>
<ellipse cx="578" cy="295.2" rx="3.5" ry="7.6" fill="#e8b848" stroke="#6a4410" stroke-width="1"/><ellipse cx="578.2" cy="295.5" rx="1.9" ry="5.8" fill="#b87820" stroke="#8a5a14" stroke-width="0.5"/>
</g>
<g id="labels">
<path d="M202,213.8 L262.2,213.8 L345.8,278.3" stroke="#141414" stroke-width="1.1" fill="none"/>
<path d="M196.7,234.4 L228.9,234.4 L346.7,323.3" stroke="#141414" stroke-width="1.1" fill="none"/>
<path d="M192.2,255.6 L235.6,255.6 L295.8,297.5" stroke="#141414" stroke-width="1.1" fill="none"/>
<path d="M121,278.2 L209,278.2 L229,288.3" stroke="#141414" stroke-width="1.5" fill="none"/>
<path d="M126,313.9 L139.4,313.9 L209,291.7" stroke="#141414" stroke-width="1.5" fill="none"/>
<path d="M121,341.2 L207.5,341.2 L275,296" stroke="#141414" stroke-width="1.5" fill="none"/>
<path d="M123,367.9 L209,367.9 L268,323" stroke="#141414" stroke-width="1.5" fill="none"/>
<path d="M117.5,204.3 L111.1,204.3 L111.1,264.6 L117.5,264.6" stroke="#141414" stroke-width="1.3" fill="none"/>
<path d="M94.2,234 L111.1,234" stroke="#141414" stroke-width="1.2" fill="none"/>
<path d="M480.6,188.5 L397.3,188.5 L364.5,263.3" stroke="#777" stroke-width="0.9" fill="none"/>
<path d="M480.6,203.3 L411.9,203.3 L371.1,292.5" stroke="#141414" stroke-width="1.1" fill="none"/>
<path d="M480.6,218.3 L424.4,218.3 L402.2,285.7" stroke="#141414" stroke-width="1.1" fill="none"/>
<path d="M480.6,233 L442,233 L396.4,316.8" stroke="#141414" stroke-width="1.1" fill="none"/>
<path d="M480.6,248.3 L459.8,248.3 L414.9,302.2" stroke="#141414" stroke-width="1.1" fill="none"/>
<path d="M579,199.2 L585,199.2 L585,252.8 L579,252.8" stroke="#141414" stroke-width="1.3" fill="none"/>
<path d="M585,227 L592,227" stroke="#141414" stroke-width="1.2" fill="none"/>
<path d="M363.5,300.5 L387.6,322.6" stroke="#141414" stroke-width="1.0" fill="none"/>
<path d="M387.6,323.3 L562.5,323.3" stroke="#b8b8b8" stroke-width="1.1" fill="none"/>
<path d="M365.3,320.7 L386.7,335.3" stroke="#141414" stroke-width="1.0" fill="none"/>
<path d="M386.7,335.3 L518.3,335.3" stroke="#b8b8b8" stroke-width="1.1" fill="none"/>
<path d="M389.6,382.6 L578.3,382.6" stroke="#141414" stroke-width="1.4" fill="none"/>
<path d="M388.8,444 L572.6,444" stroke="#141414" stroke-width="1.4" fill="none"/>
<path d="M388.4,483.4 L571.7,483.4" stroke="#b4b4b4" stroke-width="1.2" fill="none"/>
<g font-size="9" font-weight="bold" fill="#161616">
<text x="117.3" y="216">Posterior funiculus</text>
<text x="117.3" y="237.5">Anterior funiculus</text>
<text x="117.3" y="258.3">Lateral funiculus</text>
<text x="70.4" y="237.3">White</text>
<text x="70.4" y="247">columns</text>
<text x="70.6" y="280.9">Dorsal root</text>
<text x="70.6" y="290.9">ganglion</text>
<text x="70.6" y="317">Spinal nerve</text>
<text x="70.6" y="343.9">Dorsal root</text>
<text x="70.6" y="370.6">Ventral root</text>
<text x="482.5" y="192">Posterior median sulcus</text>
<text x="482.5" y="206.7">Gray commissure</text>
<text x="482.5" y="221.2">Posterior (dorsal) horn</text>
<text x="482.5" y="235.8">Anterior (ventral) horn</text>
<text x="482.5" y="251.3">Lateral horn</text>
<text x="593.5" y="230.3">Gray</text>
<text x="593.5" y="240.5">matter</text>
<text x="565.4" y="326.7">Central canal</text>
<text x="522" y="338.8">Anterior median fissure</text>
<text x="579.6" y="385">Pia mater</text>
<text x="574.5" y="447.6">Arachnoid</text>
<text x="574.3" y="487">Dura mater</text>
<text x="129.5" y="528">(b)</text>
</g>
</g>
<text x="360" y="46.5" font-size="40" text-anchor="middle" fill="#000">Spinal nerves</text>
<g font-size="24" fill="#000">
<rect x="51" y="88" width="7" height="7"/>
<rect x="51" y="121" width="7" height="7"/>
<rect x="51" y="156" width="7" height="7"/>
<text x="76" y="98.6">Part of the peripheral nervous system</text>
<text x="76" y="133">31 pairs attach through dorsal and ventral nerve roots</text>
<text x="76" y="167.6">Lie in intervertebral foramina</text>
</g>
<text x="662" y="509" font-size="14" fill="#000">12</text>
</svg>
</body></html>
